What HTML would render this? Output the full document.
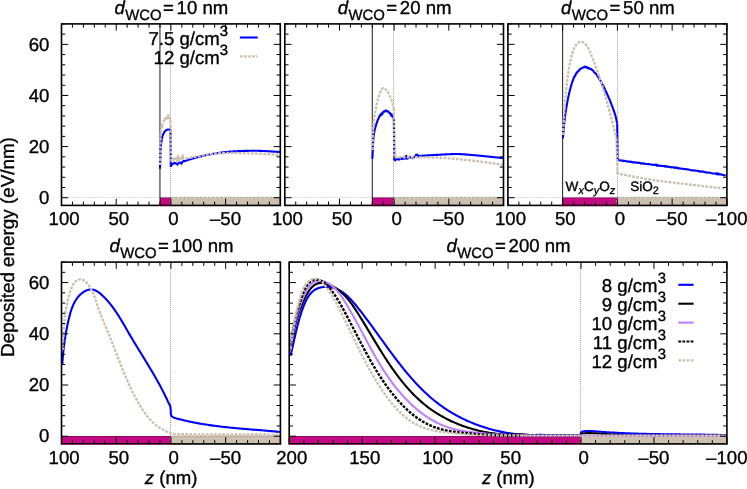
<!DOCTYPE html>
<html><head><meta charset="utf-8"><title>plot</title>
<style>html,body{margin:0;padding:0;background:#fff;overflow:hidden}svg{display:block}text{text-rendering:geometricPrecision}</style></head>
<body>
<svg width="747" height="489" viewBox="0 0 747 489" font-family="Liberation Sans, sans-serif" font-size="18.6" fill="#000">
<rect width="747" height="489" fill="#fff"/>
<rect x="159.96" y="197.53" width="10.94" height="7.87" fill="#c40a82"/>
<rect x="170.90" y="197.73" width="109.40" height="7.67" fill="#cdc0b0" stroke="#cdc0b0" stroke-width="2.1" stroke-dasharray="2.8 1.3"/>
<path d="M61.5 197.50H280.3" stroke="#000" stroke-width="1" stroke-dasharray="0.9 0.85" opacity="0.2" fill="none"/>
<path d="M170.50 23.9V205.4" stroke="#000" stroke-width="1" stroke-dasharray="0.95 1" opacity="0.4" fill="none"/>
<path d="M159.96 23.9V205.4" stroke="#000" stroke-width="0.9" fill="none"/>
<path d="M160.00 168.70 L160.03 167.80 L160.05 166.90 L160.07 165.98 L160.10 165.07 L160.12 164.15 L160.15 163.24 L160.18 162.33 L160.20 161.43 L160.23 160.55 L160.25 159.68 L160.28 158.83 L160.30 158.00 L160.32 157.20 L160.34 156.44 L160.35 155.71 L160.36 155.00 L160.36 154.30 L160.38 153.60 L160.39 152.90 L160.41 152.19 L160.44 151.47 L160.48 150.71 L160.53 149.93 L160.60 149.10 L160.68 148.21 L160.77 147.27 L160.87 146.27 L160.98 145.24 L161.09 144.20 L161.22 143.15 L161.35 142.11 L161.49 141.10 L161.63 140.13 L161.78 139.21 L161.94 138.36 L162.10 137.60 L162.27 136.91 L162.45 136.27 L162.63 135.68 L162.83 135.14 L163.03 134.63 L163.24 134.16 L163.45 133.73 L163.66 133.32 L163.87 132.94 L164.08 132.57 L164.29 132.23 L164.50 131.90 L164.71 131.59 L164.92 131.32 L165.13 131.08 L165.34 130.87 L165.55 130.68 L165.77 130.51 L165.98 130.37 L166.19 130.23 L166.40 130.11 L166.61 130.00 L166.81 129.90 L167.00 129.80 L167.19 129.71 L167.38 129.64 L167.57 129.58 L167.76 129.54 L167.94 129.51 L168.12 129.49 L168.30 129.48 L168.47 129.48 L168.64 129.48 L168.80 129.49 L168.95 129.49 L169.10 129.50 L169.24 129.51 L169.36 129.53 L169.48 129.55 L169.59 129.58 L169.70 129.62 L169.80 129.66 L169.90 129.70 L170.00 129.74 L170.09 129.78 L170.19 129.83 L170.29 129.86 L170.40 129.90 M170.50 129.90 L170.80 167.10 M170.90 166.50 L171.15 165.92 L171.36 164.93 L171.64 164.80 L172.09 163.95 L172.71 164.11 L173.40 163.24 L174.09 163.00 L174.80 162.71 L175.50 163.46 L176.19 163.52 L176.88 163.26 L177.57 164.68 L178.26 162.97 L178.95 162.70 L179.65 162.69 L180.35 162.63 L180.89 162.79 L181.18 163.13 L181.51 163.85 L181.55 163.34 L181.58 162.93 L182.01 162.26 L182.59 161.97 L183.22 161.36 L183.88 160.80 L184.53 161.19 L185.19 160.94 L185.86 160.71 L186.52 160.48 L187.19 160.25 L187.86 160.03 L188.53 159.81 L189.20 159.60 L189.87 159.39 L190.55 159.18 L191.22 158.97 L191.90 158.77 L192.57 158.57 L193.25 158.37 L193.93 158.18 L194.60 157.99 L195.28 157.79 L195.96 157.61 L196.64 157.42 L197.32 157.24 L198.00 157.07 L198.69 156.89 L199.37 156.72 L200.05 156.55 L200.74 156.38 L201.42 156.22 L202.11 156.06 L202.80 155.90 L203.48 155.74 L204.17 155.59 L204.86 155.44 L205.55 155.29 L206.24 155.14 L206.93 155.00 L207.62 154.86 L208.31 154.72 L209.00 154.58 L209.69 154.45 L210.38 154.31 L211.08 154.18 L211.77 154.06 L212.46 153.93 L213.16 153.81 L213.85 153.69 L214.55 153.57 L215.24 153.46 L215.94 153.35 L216.63 153.24 L217.33 153.13 L218.03 153.03 L218.72 152.93 L219.42 152.83 L220.12 152.73 L220.82 152.64 L221.52 152.55 L222.22 152.46 L222.92 152.37 L223.62 152.29 L224.32 152.21 L225.02 152.13 L225.72 152.06 L226.42 151.98 L227.12 151.91 L227.82 151.84 L228.52 151.77 L229.22 151.71 L229.92 151.65 L230.63 151.59 L231.33 151.53 L232.03 151.48 L232.74 151.43 L233.44 151.38 L234.14 151.34 L234.84 151.30 L235.55 151.26 L236.25 151.22 L236.96 151.19 L237.66 151.15 L238.36 151.12 L239.07 151.09 L239.77 151.07 L240.48 151.04 L241.18 151.02 L241.88 151.00 L242.59 150.97 L243.29 150.95 L244.00 150.93 L244.70 150.92 L245.41 150.90 L246.11 150.88 L246.82 150.87 L247.52 150.85 L248.22 150.84 L248.93 150.82 L249.63 150.81 L250.34 150.80 L251.04 150.80 L251.75 150.79 L252.45 150.79 L253.16 150.78 L253.86 150.78 L254.57 150.78 L255.27 150.79 L255.98 150.79 L256.68 150.80 L257.39 150.81 L258.09 150.82 L258.79 150.83 L259.50 150.85 L260.20 150.87 L260.91 150.89 L261.61 150.91 L262.32 150.94 L263.02 150.96 L263.72 150.99 L264.43 151.03 L265.13 151.06 L265.84 151.10 L266.54 151.14 L267.24 151.18 L267.95 151.22 L268.65 151.26 L269.35 151.31 L270.06 151.35 L270.76 151.40 L271.46 151.45 L272.17 151.49 L272.87 151.54 L273.57 151.59 L274.27 151.64 L274.98 151.68 L275.68 151.73 L276.38 151.78 L277.09 151.82 L277.79 151.87 L278.49 151.91 L279.20 151.96 L279.90 152.00" stroke="#0000ff" stroke-width="2.1" fill="none" stroke-linejoin="round"/>
<path d="M160.20 165.00 L160.21 164.29 L160.22 163.58 L160.23 162.87 L160.24 162.16 L160.25 161.45 L160.26 160.75 L160.26 160.04 L160.27 159.33 L160.28 158.62 L160.29 157.91 L160.30 157.20 L160.31 156.49 L160.32 155.78 L160.33 155.07 L160.34 154.36 L160.35 153.65 L160.36 152.94 L160.37 152.24 L160.38 151.53 L160.39 150.82 L160.40 150.11 L160.41 149.40 L160.42 148.69 L160.42 147.98 L160.43 147.27 L160.44 146.56 L160.45 145.85 L160.45 145.14 L160.46 144.43 L160.47 143.73 L160.47 143.02 L160.48 142.31 L160.49 141.60 L160.50 140.89 L160.52 140.18 L160.54 139.47 L160.56 138.76 L160.58 138.05 L160.61 137.34 L160.64 136.64 L160.67 135.93 L160.70 135.22 L160.74 134.51 L160.78 133.80 L160.83 133.09 L160.89 132.39 L160.96 131.68 L161.06 130.98 L161.16 130.28 L161.29 129.58 L161.42 128.88 L161.58 128.19 L161.74 127.50 L161.92 126.81 L162.10 127.55 L162.29 124.92 L162.49 125.00 L162.70 123.29 L162.92 122.96 L163.15 122.56 L163.40 121.68 L163.65 121.20 L163.94 120.97 L164.26 120.04 L164.63 119.06 L165.06 119.75 L165.52 118.01 L166.00 117.50 L166.49 116.80 L167.00 116.37 L167.54 118.42 L168.15 115.19 L168.85 116.84 L169.43 116.39 L169.75 117.18 L169.94 118.66 L170.07 118.86 L170.16 118.86 L170.22 119.78 L170.28 119.76 L170.32 119.59 L170.36 121.28 L170.40 122.54 L170.44 123.40 L170.47 123.63 L170.51 125.12 L170.55 126.00 L170.60 125.66 M170.60 126.20 L170.90 160.50 M171.00 159.59 L171.62 161.10 L172.22 159.63 L172.83 158.56 L173.49 158.75 L174.19 160.02 L174.84 159.98 L175.41 159.35 L175.99 158.26 L176.62 159.92 L177.32 161.88 L178.00 156.06 L178.65 160.81 L179.32 158.90 L180.00 160.06 L180.69 160.15 L181.39 157.51 L182.08 158.73 L182.78 155.51 L183.47 158.84 L184.17 158.72 L184.87 158.60 L185.56 158.47 L186.26 158.35 L186.96 158.23 L187.66 158.11 L188.35 157.99 L189.05 157.87 L189.75 157.75 L190.44 157.63 L191.14 157.51 L191.84 157.39 L192.54 157.28 L193.23 157.16 L193.93 157.04 L194.63 156.92 L195.33 156.80 L196.02 156.68 L196.72 156.56 L197.42 156.44 L198.12 156.32 L198.81 156.20 L199.51 156.07 L200.20 155.94 L200.90 155.81 L201.60 155.69 L202.29 155.56 L202.99 155.42 L203.68 155.30 L204.38 155.17 L205.07 155.04 L205.77 154.92 L206.47 154.79 L207.16 154.67 L207.86 154.55 L208.56 154.44 L209.26 154.33 L209.96 154.22 L210.66 154.12 L211.36 154.02 L212.06 153.94 L212.76 153.85 L213.47 153.77 L214.17 153.70 L214.87 153.63 L215.58 153.57 L216.28 153.52 L216.99 153.46 L217.70 153.41 L218.40 153.37 L219.11 153.32 L219.81 153.28 L220.52 153.25 L221.23 153.21 L221.93 153.19 L222.64 153.16 L223.35 153.13 L224.06 153.11 L224.76 153.09 L225.47 153.07 L226.18 153.06 L226.88 153.04 L227.59 153.03 L228.30 153.02 L229.01 153.01 L229.71 153.00 L230.42 152.99 L231.13 152.98 L231.84 152.99 L232.54 152.99 L233.25 152.99 L233.96 153.00 L234.67 153.01 L235.37 153.02 L236.08 153.04 L236.79 153.06 L237.50 153.07 L238.20 153.09 L238.91 153.11 L239.62 153.13 L240.32 153.16 L241.03 153.18 L241.74 153.20 L242.45 153.22 L243.15 153.24 L243.86 153.26 L244.57 153.28 L245.27 153.30 L245.98 153.32 L246.69 153.33 L247.40 153.35 L248.10 153.37 L248.81 153.39 L249.52 153.40 L250.23 153.42 L250.93 153.44 L251.64 153.46 L252.35 153.48 L253.05 153.50 L253.76 153.52 L254.47 153.54 L255.18 153.56 L255.88 153.58 L256.59 153.61 L257.30 153.63 L258.00 153.66 L258.71 153.69 L259.42 153.71 L260.12 153.74 L260.83 153.78 L261.54 153.81 L262.24 153.84 L262.95 153.88 L263.66 153.91 L264.36 153.95 L265.07 153.99 L265.78 154.03 L266.48 154.07 L267.19 154.11 L267.90 154.15 L268.60 154.20 L269.31 154.24 L270.01 154.28 L270.72 154.33 L271.43 154.37 L272.13 154.42 L272.84 154.46 L273.54 154.50 L274.25 154.55 L274.96 154.59 L275.66 154.64 L276.37 154.68 L277.08 154.73 L277.78 154.77 L278.49 154.81 L279.19 154.86 L279.90 154.90" stroke="#cdc0b0" stroke-width="2.4" fill="none" stroke-linejoin="round" stroke-dasharray="2.8 1.3"/>
<path d="M280.30 205.4v-6.7M280.30 23.9v6.7M269.36 205.4v-3.75M269.36 23.9v3.75M258.42 205.4v-3.75M258.42 23.9v3.75M247.48 205.4v-3.75M247.48 23.9v3.75M236.54 205.4v-3.75M236.54 23.9v3.75M225.60 205.4v-6.7M225.60 23.9v6.7M214.66 205.4v-3.75M214.66 23.9v3.75M203.72 205.4v-3.75M203.72 23.9v3.75M192.78 205.4v-3.75M192.78 23.9v3.75M181.84 205.4v-3.75M181.84 23.9v3.75M170.90 205.4v-6.7M170.90 23.9v6.7M159.96 205.4v-3.75M159.96 23.9v3.75M149.02 205.4v-3.75M149.02 23.9v3.75M138.08 205.4v-3.75M138.08 23.9v3.75M127.14 205.4v-3.75M127.14 23.9v3.75M116.20 205.4v-6.7M116.20 23.9v6.7M105.26 205.4v-3.75M105.26 23.9v3.75M94.32 205.4v-3.75M94.32 23.9v3.75M83.38 205.4v-3.75M83.38 23.9v3.75M72.44 205.4v-3.75M72.44 23.9v3.75M61.50 205.4v-6.7M61.50 23.9v6.7M61.5 197.73h6.7M280.3 197.73h-6.7M61.5 187.51h3.75M280.3 187.51h-3.75M61.5 177.28h3.75M280.3 177.28h-3.75M61.5 167.05h3.75M280.3 167.05h-3.75M61.5 156.83h3.75M280.3 156.83h-3.75M61.5 146.60h6.7M280.3 146.60h-6.7M61.5 136.38h3.75M280.3 136.38h-3.75M61.5 126.15h3.75M280.3 126.15h-3.75M61.5 115.93h3.75M280.3 115.93h-3.75M61.5 105.70h3.75M280.3 105.70h-3.75M61.5 95.48h6.7M280.3 95.48h-6.7M61.5 85.25h3.75M280.3 85.25h-3.75M61.5 75.03h3.75M280.3 75.03h-3.75M61.5 64.80h3.75M280.3 64.80h-3.75M61.5 54.58h3.75M280.3 54.58h-3.75M61.5 44.35h6.7M280.3 44.35h-6.7M61.5 34.13h3.75M280.3 34.13h-3.75M61.5 23.90h3.75M280.3 23.90h-3.75" stroke="#000" stroke-width="1" fill="none"/>
<rect x="61.5" y="23.9" width="218.80" height="181.50" fill="none" stroke="#000" stroke-width="1.6"/>
<path d="M159.96 198.03H170.90" stroke="#300020" stroke-width="1" stroke-dasharray="0.9 1.1" opacity="0.55" fill="none"/>
<path d="M159.96 205.90H170.90" stroke="#c40a82" stroke-width="1.3" stroke-dasharray="2.8 1.3" opacity="0.45" fill="none"/>
<path d="M239.9 37.5H257.7" stroke="#0000ff" stroke-width="2.1"/>
<path d="M239.9 56.4H257.7" stroke="#cdc0b0" stroke-width="2.1" stroke-dasharray="2.8 1.3"/>
<rect x="372.28" y="197.53" width="21.87" height="7.87" fill="#c40a82"/>
<rect x="394.15" y="197.73" width="109.35" height="7.67" fill="#cdc0b0" stroke="#cdc0b0" stroke-width="2.1" stroke-dasharray="2.8 1.3"/>
<path d="M284.8 197.50H503.5" stroke="#000" stroke-width="1" stroke-dasharray="0.9 0.85" opacity="0.2" fill="none"/>
<path d="M393.50 23.9V205.4" stroke="#000" stroke-width="1" stroke-dasharray="0.95 1" opacity="0.4" fill="none"/>
<path d="M372.28 23.9V205.4" stroke="#000" stroke-width="0.9" fill="none"/>
<path d="M372.40 158.80 L372.44 158.09 L372.47 157.37 L372.50 156.66 L372.53 155.94 L372.57 155.22 L372.60 154.51 L372.63 153.79 L372.65 153.08 L372.68 152.36 L372.71 151.65 L372.74 150.93 L372.77 150.22 L372.80 149.50 L372.83 148.79 L372.86 148.07 L372.89 147.36 L372.92 146.64 L372.95 145.93 L372.98 145.21 L373.02 144.50 L373.05 143.78 L373.09 143.07 L373.13 142.35 L373.17 141.64 L373.22 140.92 L373.27 140.21 L373.32 139.50 L373.37 138.78 L373.44 138.07 L373.50 137.36 L373.58 136.65 L373.66 135.93 L373.75 135.22 L373.85 134.51 L373.95 133.81 L374.06 133.10 L374.18 132.39 L374.32 131.69 L374.46 130.99 L374.62 130.29 L374.79 129.60 L374.96 128.90 L375.15 128.21 L375.33 127.52 L375.53 126.83 L375.72 126.14 L375.91 125.45 L376.12 124.77 L376.34 124.08 L376.56 123.41 L376.80 122.73 L377.04 122.05 L377.29 121.38 L377.54 120.72 L377.81 120.05 L378.09 119.39 L378.38 118.74 L378.67 118.08 L378.98 117.44 L379.31 116.70 L379.65 116.11 L380.02 115.13 L380.41 115.61 L380.84 114.67 L381.30 113.56 L381.80 114.58 L382.33 114.15 L382.89 112.22 L383.47 111.73 L384.09 111.42 L384.75 111.66 L385.43 110.63 L386.15 110.53 L386.85 111.20 L387.51 111.48 L388.12 111.27 L388.68 112.23 L389.22 112.95 L389.74 112.78 L390.24 113.57 L390.73 114.61 L391.19 115.64 L391.63 114.18 L392.04 115.07 L392.45 116.64 L392.86 117.34 L393.28 117.27 L393.70 118.80 M393.90 118.50 L394.30 159.90 M394.40 159.80 L395.10 160.45 L395.80 158.79 L396.49 159.45 L397.19 159.43 L397.89 159.08 L398.59 159.16 L399.28 159.55 L399.98 158.69 L400.68 158.40 L401.38 158.12 L402.08 159.07 L402.78 158.84 L403.48 158.77 L404.18 157.55 L404.88 158.56 L405.58 156.35 L406.28 155.84 L406.98 158.83 L407.68 157.27 L408.38 158.15 L409.08 156.82 L409.79 156.96 L410.49 157.50 L411.19 157.51 L411.89 156.95 L412.59 158.10 L413.29 157.08 L413.99 157.05 L414.70 156.64 L415.40 156.44 L416.10 154.66 L416.80 156.16 L417.51 154.64 L418.21 156.46 L418.91 155.96 L419.62 156.27 L420.32 155.98 L421.03 155.91 L421.73 155.85 L422.44 155.78 L423.14 155.73 L423.85 155.67 L424.56 155.61 L425.26 155.56 L425.97 155.51 L426.67 155.46 L427.38 155.42 L428.09 155.37 L428.79 155.33 L429.50 155.29 L430.21 155.24 L430.91 155.20 L431.62 155.16 L432.33 155.12 L433.03 155.08 L433.74 155.04 L434.45 155.00 L435.15 154.96 L435.86 154.92 L436.57 154.88 L437.27 154.84 L437.98 154.80 L438.69 154.76 L439.39 154.72 L440.10 154.68 L440.81 154.64 L441.52 154.60 L442.22 154.56 L442.93 154.53 L443.64 154.49 L444.34 154.45 L445.05 154.42 L445.76 154.38 L446.46 154.35 L447.17 154.31 L447.88 154.28 L448.59 154.25 L449.29 154.22 L450.00 154.19 L450.71 154.16 L451.42 154.13 L452.12 154.11 L452.83 154.08 L453.54 154.06 L454.25 154.03 L454.95 154.00 L455.66 153.98 L456.37 153.97 L457.08 153.97 L457.78 153.99 L458.49 154.01 L459.20 154.04 L459.91 154.08 L460.61 154.12 L461.32 154.16 L462.03 154.21 L462.73 154.25 L463.44 154.30 L464.14 154.36 L464.85 154.41 L465.56 154.46 L466.26 154.52 L466.97 154.58 L467.67 154.64 L468.38 154.69 L469.08 154.75 L469.79 154.81 L470.49 154.88 L471.20 154.94 L471.91 155.00 L472.61 155.06 L473.32 155.12 L474.02 155.19 L474.73 155.25 L475.43 155.31 L476.14 155.38 L476.84 155.44 L477.55 155.51 L478.25 155.57 L478.96 155.64 L479.66 155.71 L480.37 155.77 L481.07 155.84 L481.77 155.91 L482.48 155.98 L483.18 156.05 L483.89 156.12 L484.59 156.20 L485.30 156.27 L486.00 156.34 L486.70 156.41 L487.41 156.49 L488.11 156.56 L488.82 156.63 L489.52 156.70 L490.23 156.78 L490.93 156.85 L491.63 156.92 L492.34 156.99 L493.04 157.07 L493.75 157.14 L494.45 157.21 L495.16 157.28 L495.86 157.36 L496.56 157.43 L497.27 157.50 L497.97 157.58 L498.68 157.65 L499.38 157.73 L500.08 157.80 L500.79 157.88 L501.49 157.95 L502.20 158.03 L502.90 158.10" stroke="#0000ff" stroke-width="2.1" fill="none" stroke-linejoin="round"/>
<path d="M372.50 150.00 L372.58 147.81 L372.64 145.58 L372.69 143.34 L372.74 141.08 L372.80 138.83 L372.85 136.58 L372.91 134.36 L372.99 132.16 L373.08 130.01 L373.19 127.91 L373.33 125.87 L373.50 123.90 L373.70 121.98 L373.93 120.09 L374.18 118.22 L374.46 116.40 L374.75 114.61 L375.06 112.87 L375.37 111.18 L375.69 109.55 L376.00 107.98 L376.31 106.48 L376.61 105.05 L376.90 103.70 L377.18 102.43 L377.45 101.23 L377.73 100.11 L378.00 99.05 L378.28 98.06 L378.55 97.12 L378.82 96.24 L379.10 95.40 L379.37 94.62 L379.65 93.87 L379.92 93.17 L380.20 92.50 L380.48 91.86 L380.75 91.26 L381.02 90.69 L381.29 90.17 L381.55 89.69 L381.82 89.27 L382.10 88.90 L382.38 88.59 L382.67 88.34 L382.97 88.15 L383.28 88.04 L383.60 88.00 L383.94 88.05 L384.30 88.19 L384.67 88.41 L385.06 88.71 L385.45 89.07 L385.85 89.48 L386.25 89.94 L386.64 90.42 L387.03 90.93 L387.40 91.45 L387.76 91.98 L388.10 92.50 L388.43 93.03 L388.74 93.61 L389.06 94.22 L389.36 94.85 L389.66 95.51 L389.94 96.19 L390.22 96.88 L390.50 97.57 L390.76 98.27 L391.02 98.96 L391.26 99.64 L391.50 100.30 L391.73 100.95 L391.94 101.61 L392.13 102.27 L392.32 102.93 L392.50 103.58 L392.67 104.24 L392.84 104.90 L393.01 105.56 L393.18 106.22 L393.35 106.88 L393.52 107.54 L393.70 108.20 M393.80 108.40 L394.40 157.20 M394.50 157.30 L395.28 157.30 L396.03 157.30 L396.75 157.30 L397.47 157.30 L398.18 157.30 L398.91 157.30 L399.65 157.30 L400.43 157.30 L401.26 157.30 L402.14 157.30 L403.08 157.30 L404.10 157.30 L405.20 157.30 L406.38 157.30 L407.62 157.29 L408.92 157.29 L410.26 157.28 L411.64 157.28 L413.03 157.28 L414.44 157.28 L415.86 157.28 L417.26 157.28 L418.64 157.29 L420.00 157.30 L421.34 157.31 L422.68 157.32 L424.03 157.34 L425.38 157.35 L426.73 157.37 L428.09 157.39 L429.44 157.41 L430.80 157.44 L432.15 157.47 L433.50 157.51 L434.85 157.55 L436.20 157.60 L437.55 157.66 L438.89 157.72 L440.23 157.79 L441.58 157.86 L442.92 157.94 L444.26 158.02 L445.60 158.11 L446.94 158.20 L448.28 158.29 L449.62 158.39 L450.96 158.49 L452.30 158.60 L453.64 158.71 L454.97 158.83 L456.30 158.95 L457.64 159.08 L458.97 159.21 L460.30 159.34 L461.63 159.48 L462.96 159.62 L464.30 159.76 L465.63 159.91 L466.96 160.05 L468.30 160.20 L469.63 160.34 L470.95 160.49 L472.26 160.63 L473.57 160.78 L474.88 160.92 L476.19 161.07 L477.52 161.23 L478.85 161.39 L480.20 161.55 L481.58 161.73 L482.97 161.91 L484.40 162.10 L485.86 162.30 L487.34 162.51 L488.86 162.74 L490.39 162.97 L491.94 163.20 L493.50 163.44 L495.07 163.69 L496.64 163.93 L498.22 164.18 L499.79 164.42 L501.35 164.66 L502.90 164.90" stroke="#cdc0b0" stroke-width="2.4" fill="none" stroke-linejoin="round" stroke-dasharray="2.8 1.3"/>
<path d="M503.50 205.4v-6.7M503.50 23.9v6.7M492.56 205.4v-3.75M492.56 23.9v3.75M481.63 205.4v-3.75M481.63 23.9v3.75M470.69 205.4v-3.75M470.69 23.9v3.75M459.76 205.4v-3.75M459.76 23.9v3.75M448.82 205.4v-6.7M448.82 23.9v6.7M437.89 205.4v-3.75M437.89 23.9v3.75M426.96 205.4v-3.75M426.96 23.9v3.75M416.02 205.4v-3.75M416.02 23.9v3.75M405.09 205.4v-3.75M405.09 23.9v3.75M394.15 205.4v-6.7M394.15 23.9v6.7M383.22 205.4v-3.75M383.22 23.9v3.75M372.28 205.4v-3.75M372.28 23.9v3.75M361.35 205.4v-3.75M361.35 23.9v3.75M350.41 205.4v-3.75M350.41 23.9v3.75M339.48 205.4v-6.7M339.48 23.9v6.7M328.54 205.4v-3.75M328.54 23.9v3.75M317.61 205.4v-3.75M317.61 23.9v3.75M306.67 205.4v-3.75M306.67 23.9v3.75M295.74 205.4v-3.75M295.74 23.9v3.75M284.80 205.4v-6.7M284.80 23.9v6.7M284.8 197.73h6.7M503.5 197.73h-6.7M284.8 187.51h3.75M503.5 187.51h-3.75M284.8 177.28h3.75M503.5 177.28h-3.75M284.8 167.05h3.75M503.5 167.05h-3.75M284.8 156.83h3.75M503.5 156.83h-3.75M284.8 146.60h6.7M503.5 146.60h-6.7M284.8 136.38h3.75M503.5 136.38h-3.75M284.8 126.15h3.75M503.5 126.15h-3.75M284.8 115.93h3.75M503.5 115.93h-3.75M284.8 105.70h3.75M503.5 105.70h-3.75M284.8 95.48h6.7M503.5 95.48h-6.7M284.8 85.25h3.75M503.5 85.25h-3.75M284.8 75.03h3.75M503.5 75.03h-3.75M284.8 64.80h3.75M503.5 64.80h-3.75M284.8 54.58h3.75M503.5 54.58h-3.75M284.8 44.35h6.7M503.5 44.35h-6.7M284.8 34.13h3.75M503.5 34.13h-3.75M284.8 23.90h3.75M503.5 23.90h-3.75" stroke="#000" stroke-width="1" fill="none"/>
<rect x="284.8" y="23.9" width="218.70" height="181.50" fill="none" stroke="#000" stroke-width="1.6"/>
<path d="M372.28 198.03H394.15" stroke="#300020" stroke-width="1" stroke-dasharray="0.9 1.1" opacity="0.55" fill="none"/>
<path d="M372.28 205.90H394.15" stroke="#c40a82" stroke-width="1.3" stroke-dasharray="2.8 1.3" opacity="0.45" fill="none"/>
<rect x="562.65" y="197.53" width="54.75" height="7.87" fill="#c40a82"/>
<rect x="617.40" y="197.73" width="109.50" height="7.67" fill="#cdc0b0" stroke="#cdc0b0" stroke-width="2.1" stroke-dasharray="2.8 1.3"/>
<path d="M507.9 197.50H726.9" stroke="#000" stroke-width="1" stroke-dasharray="0.9 0.85" opacity="0.2" fill="none"/>
<path d="M617.50 23.9V205.4" stroke="#000" stroke-width="1" stroke-dasharray="0.95 1" opacity="0.4" fill="none"/>
<path d="M562.65 23.9V205.4" stroke="#000" stroke-width="0.9" fill="none"/>
<path d="M562.90 138.40 L562.96 137.70 L563.03 137.00 L563.09 136.29 L563.15 135.59 L563.21 134.89 L563.27 134.19 L563.33 133.48 L563.38 132.78 L563.44 132.08 L563.50 131.38 L563.56 130.67 L563.61 129.97 L563.67 129.27 L563.73 128.57 L563.79 127.86 L563.85 127.16 L563.91 126.46 L563.98 125.76 L564.04 125.06 L564.11 124.35 L564.18 123.65 L564.25 122.95 L564.33 122.25 L564.40 121.55 L564.48 120.85 L564.57 120.15 L564.65 119.45 L564.74 118.75 L564.83 118.05 L564.93 117.35 L565.02 116.66 L565.12 115.96 L565.22 115.26 L565.32 114.56 L565.42 113.86 L565.52 113.17 L565.62 112.47 L565.72 111.77 L565.83 111.08 L565.94 110.38 L566.04 109.68 L566.15 108.99 L566.27 108.29 L566.38 107.59 L566.49 106.90 L566.61 106.20 L566.72 105.51 L566.84 104.81 L566.96 104.12 L567.09 103.42 L567.21 102.73 L567.34 102.04 L567.47 101.34 L567.59 100.65 L567.73 99.96 L567.86 99.27 L568.00 98.58 L568.14 97.89 L568.29 97.20 L568.43 96.51 L568.58 95.82 L568.74 95.13 L568.89 94.44 L569.05 93.75 L569.21 93.07 L569.37 92.38 L569.53 91.70 L569.70 91.01 L569.87 90.33 L570.04 89.64 L570.22 88.96 L570.40 88.28 L570.58 87.60 L570.77 86.92 L570.96 86.24 L571.15 85.56 L571.35 84.89 L571.56 84.21 L571.77 83.54 L571.99 82.87 L572.21 82.21 L572.44 81.14 L572.67 81.09 L572.92 80.29 L573.18 79.73 L573.44 78.82 L573.72 77.65 L574.01 77.59 L574.32 76.90 L574.63 76.43 L574.97 75.66 L575.32 75.79 L575.68 74.17 L576.05 73.48 L576.44 73.16 L576.85 73.02 L577.27 71.78 L577.71 71.83 L578.17 71.17 L578.64 70.98 L579.13 70.09 L579.64 69.81 L580.17 68.89 L580.73 68.54 L581.33 68.55 L581.95 68.21 L582.60 67.68 L583.27 67.57 L583.96 67.25 L584.66 66.67 L585.36 67.27 L586.07 67.50 L586.77 66.86 L587.46 67.72 L588.13 68.44 L588.79 67.98 L589.43 68.27 L590.05 68.94 L590.65 68.94 L591.23 69.11 L591.80 69.73 L592.35 70.00 L592.88 70.59 L593.40 71.09 L593.91 71.87 L594.40 72.23 L594.87 73.08 L595.34 73.33 L595.79 73.50 L596.23 73.82 L596.66 74.75 L597.08 75.64 L597.49 76.03 L597.89 76.39 L598.29 76.91 L598.67 77.78 L599.05 78.75 L599.41 78.82 L599.77 79.65 L600.13 80.03 L600.48 80.54 L600.82 81.40 L601.16 81.91 L601.50 82.48 L601.83 82.98 L602.16 83.94 L602.48 84.91 L602.81 85.03 L603.13 85.56 L603.45 85.84 L603.76 87.00 L604.08 87.70 L604.39 88.25 L604.70 88.47 L605.01 89.92 L605.32 89.99 L605.62 91.44 L605.92 91.29 L606.22 91.85 L606.52 92.86 L606.81 93.31 L607.11 93.82 L607.40 94.73 L607.68 95.73 L607.97 95.96 L608.25 96.00 L608.54 97.24 L608.81 98.00 L609.09 98.74 L609.37 98.88 L609.64 99.63 L609.91 100.23 L610.18 101.01 L610.44 101.90 L610.70 102.66 L610.96 102.78 L611.22 103.85 L611.47 104.47 L611.73 105.36 L611.98 105.88 L612.22 106.30 L612.47 106.96 L612.71 107.62 L612.95 108.28 L613.19 108.95 L613.43 109.61 L613.66 110.28 L613.89 110.94 L614.12 111.61 L614.35 112.28 L614.57 112.94 L614.79 113.62 L615.00 114.29 L615.21 114.96 L615.41 115.64 L615.60 116.31 L615.78 117.00 L615.95 117.68 L616.10 118.37 L616.25 119.06 L616.39 119.75 L616.53 120.44 L616.66 121.13 L616.80 121.82 L616.95 122.51 L617.10 123.20 M617.20 123.40 L617.60 159.50 M617.62 159.97 L618.31 160.07 L619.01 160.31 L619.71 160.23 L620.41 160.42 L621.11 160.43 L621.81 160.61 L622.50 160.65 L623.20 160.63 L623.90 161.13 L624.60 160.88 L625.30 160.89 L626.00 161.18 L626.70 161.52 L627.39 161.51 L628.09 161.37 L628.79 161.71 L629.49 161.56 L630.19 161.86 L630.89 161.99 L631.59 161.67 L632.28 162.43 L632.98 162.25 L633.68 162.35 L634.38 162.16 L635.08 162.43 L635.78 162.75 L636.48 162.61 L637.18 162.78 L637.87 162.54 L638.57 162.91 L639.27 162.86 L639.97 163.11 L640.67 163.36 L641.37 163.79 L642.07 163.26 L642.77 163.42 L643.46 163.38 L644.16 163.65 L644.86 163.69 L645.56 164.02 L646.26 164.04 L646.96 164.07 L647.66 164.08 L648.36 164.40 L649.06 164.02 L649.75 164.16 L650.45 164.34 L651.15 164.53 L651.85 164.84 L652.55 164.66 L653.25 164.86 L653.95 165.06 L654.65 164.87 L655.34 164.89 L656.04 164.53 L656.74 165.73 L657.44 164.96 L658.14 165.73 L658.84 165.54 L659.54 165.62 L660.24 165.86 L660.93 165.78 L661.63 166.03 L662.33 165.91 L663.03 166.01 L663.73 166.24 L664.43 166.09 L665.13 166.66 L665.83 165.87 L666.52 166.62 L667.22 166.90 L667.92 166.65 L668.62 166.60 L669.32 166.90 L670.02 167.07 L670.72 167.42 L671.41 167.11 L672.11 167.12 L672.81 167.38 L673.51 167.55 L674.21 167.29 L674.91 168.07 L675.61 167.84 L676.30 167.36 L677.00 167.72 L677.70 168.43 L678.40 167.97 L679.10 168.26 L679.80 168.62 L680.49 168.54 L681.19 168.57 L681.89 168.69 L682.59 168.80 L683.29 169.02 L683.98 168.82 L684.68 168.94 L685.38 169.25 L686.08 169.18 L686.78 169.08 L687.47 169.54 L688.17 169.45 L688.87 169.43 L689.57 169.71 L690.27 169.97 L690.96 170.19 L691.66 170.24 L692.36 170.42 L693.06 170.25 L693.76 170.39 L694.45 170.38 L695.15 170.60 L695.85 170.74 L696.55 170.79 L697.24 170.80 L697.94 171.10 L698.64 171.16 L699.33 170.96 L700.03 171.64 L700.73 171.45 L701.43 171.77 L702.12 171.49 L702.82 171.41 L703.52 171.72 L704.21 172.16 L704.91 172.20 L705.61 172.15 L706.31 172.45 L707.00 172.68 L707.70 172.51 L708.40 172.56 L709.09 172.61 L709.79 172.72 L710.49 172.76 L711.18 173.28 L711.88 173.18 L712.58 173.49 L713.27 173.43 L713.97 173.60 L714.66 173.43 L715.36 173.62 L716.06 173.64 L716.75 174.09 L717.45 173.02 L718.14 174.42 L718.84 173.85 L719.54 174.33 L720.23 174.38 L720.93 174.34 L721.62 174.52 L722.32 174.76 L723.01 174.96 L723.71 175.21 L724.40 175.19 L725.10 175.30 L725.79 175.29" stroke="#0000ff" stroke-width="2.1" fill="none" stroke-linejoin="round"/>
<path d="M563.20 135.00 L563.23 134.08 L563.24 133.27 L563.25 132.52 L563.26 131.81 L563.27 131.10 L563.28 130.36 L563.29 129.54 L563.32 128.62 L563.36 127.56 L563.42 126.33 L563.50 124.89 L563.60 123.20 L563.73 121.23 L563.87 118.99 L564.03 116.52 L564.20 113.87 L564.39 111.09 L564.59 108.20 L564.81 105.26 L565.03 102.31 L565.26 99.40 L565.50 96.57 L565.75 93.85 L566.00 91.30 L566.26 88.85 L566.53 86.40 L566.81 83.98 L567.09 81.57 L567.39 79.21 L567.69 76.88 L568.01 74.61 L568.33 72.39 L568.66 70.25 L569.00 68.18 L569.35 66.19 L569.70 64.30 L570.06 62.49 L570.43 60.73 L570.81 59.03 L571.20 57.40 L571.59 55.84 L571.99 54.35 L572.41 52.93 L572.83 51.60 L573.26 50.34 L573.69 49.17 L574.14 48.09 L574.60 47.10 L575.07 46.21 L575.56 45.41 L576.06 44.70 L576.57 44.07 L577.10 43.53 L577.62 43.06 L578.16 42.67 L578.69 42.35 L579.23 42.10 L579.76 41.91 L580.28 41.78 L580.80 41.70 L581.31 41.68 L581.82 41.74 L582.33 41.86 L582.84 42.04 L583.35 42.30 L583.86 42.62 L584.36 43.00 L584.87 43.46 L585.38 43.97 L585.88 44.55 L586.39 45.19 L586.90 45.90 L587.41 46.69 L587.92 47.57 L588.42 48.54 L588.93 49.58 L589.44 50.68 L589.94 51.84 L590.45 53.05 L590.96 54.29 L591.47 55.55 L591.98 56.83 L592.49 58.12 L593.00 59.40 L593.51 60.69 L594.03 62.01 L594.55 63.36 L595.06 64.74 L595.58 66.14 L596.10 67.56 L596.62 69.01 L597.14 70.47 L597.65 71.96 L598.17 73.46 L598.69 74.97 L599.20 76.50 L599.71 78.04 L600.22 79.61 L600.73 81.19 L601.24 82.79 L601.75 84.40 L602.26 86.04 L602.76 87.69 L603.27 89.36 L603.78 91.05 L604.28 92.75 L604.79 94.47 L605.30 96.20 L605.81 97.97 L606.33 99.77 L606.85 101.61 L607.38 103.48 L607.90 105.36 L608.42 107.26 L608.94 109.15 L609.46 111.03 L609.96 112.89 L610.45 114.73 L610.93 116.54 L611.40 118.30 L611.85 120.02 L612.29 121.71 L612.71 123.38 L613.12 125.02 L613.53 126.64 L613.92 128.26 L614.32 129.86 L614.71 131.46 L615.10 133.06 L615.50 134.66 L615.90 136.27 L616.30 137.90 M616.50 138.50 L617.50 172.00 M617.60 172.20 L617.74 172.34 L617.74 172.45 L617.65 172.56 L617.50 172.66 L617.36 172.75 L617.26 172.86 L617.26 172.97 L617.41 173.11 L617.75 173.28 L618.32 173.47 L619.19 173.71 L620.40 174.00 L621.98 174.34 L623.89 174.75 L626.09 175.19 L628.53 175.68 L631.17 176.19 L633.95 176.72 L636.83 177.26 L639.76 177.79 L642.68 178.31 L645.57 178.81 L648.35 179.28 L651.00 179.70 L653.52 180.08 L655.97 180.44 L658.38 180.77 L660.76 181.09 L663.15 181.39 L665.56 181.69 L668.02 181.98 L670.55 182.28 L673.17 182.58 L675.90 182.90 L678.77 183.24 L681.80 183.60 L685.00 183.98 L688.37 184.38 L691.87 184.79 L695.49 185.21 L699.20 185.64 L702.97 186.07 L706.80 186.51 L710.64 186.96 L714.49 187.40 L718.31 187.84 L722.09 188.27 L725.80 188.70" stroke="#cdc0b0" stroke-width="2.4" fill="none" stroke-linejoin="round" stroke-dasharray="2.8 1.3"/>
<path d="M726.90 205.4v-6.7M726.90 23.9v6.7M715.95 205.4v-3.75M715.95 23.9v3.75M705.00 205.4v-3.75M705.00 23.9v3.75M694.05 205.4v-3.75M694.05 23.9v3.75M683.10 205.4v-3.75M683.10 23.9v3.75M672.15 205.4v-6.7M672.15 23.9v6.7M661.20 205.4v-3.75M661.20 23.9v3.75M650.25 205.4v-3.75M650.25 23.9v3.75M639.30 205.4v-3.75M639.30 23.9v3.75M628.35 205.4v-3.75M628.35 23.9v3.75M617.40 205.4v-6.7M617.40 23.9v6.7M606.45 205.4v-3.75M606.45 23.9v3.75M595.50 205.4v-3.75M595.50 23.9v3.75M584.55 205.4v-3.75M584.55 23.9v3.75M573.60 205.4v-3.75M573.60 23.9v3.75M562.65 205.4v-6.7M562.65 23.9v6.7M551.70 205.4v-3.75M551.70 23.9v3.75M540.75 205.4v-3.75M540.75 23.9v3.75M529.80 205.4v-3.75M529.80 23.9v3.75M518.85 205.4v-3.75M518.85 23.9v3.75M507.90 205.4v-6.7M507.90 23.9v6.7M507.9 197.73h6.7M726.9 197.73h-6.7M507.9 187.51h3.75M726.9 187.51h-3.75M507.9 177.28h3.75M726.9 177.28h-3.75M507.9 167.05h3.75M726.9 167.05h-3.75M507.9 156.83h3.75M726.9 156.83h-3.75M507.9 146.60h6.7M726.9 146.60h-6.7M507.9 136.38h3.75M726.9 136.38h-3.75M507.9 126.15h3.75M726.9 126.15h-3.75M507.9 115.93h3.75M726.9 115.93h-3.75M507.9 105.70h3.75M726.9 105.70h-3.75M507.9 95.48h6.7M726.9 95.48h-6.7M507.9 85.25h3.75M726.9 85.25h-3.75M507.9 75.03h3.75M726.9 75.03h-3.75M507.9 64.80h3.75M726.9 64.80h-3.75M507.9 54.58h3.75M726.9 54.58h-3.75M507.9 44.35h6.7M726.9 44.35h-6.7M507.9 34.13h3.75M726.9 34.13h-3.75M507.9 23.90h3.75M726.9 23.90h-3.75" stroke="#000" stroke-width="1" fill="none"/>
<rect x="507.9" y="23.9" width="219.00" height="181.50" fill="none" stroke="#000" stroke-width="1.6"/>
<path d="M562.65 198.03H617.40" stroke="#300020" stroke-width="1" stroke-dasharray="0.9 1.1" opacity="0.55" fill="none"/>
<path d="M562.65 205.90H617.40" stroke="#c40a82" stroke-width="1.3" stroke-dasharray="2.8 1.3" opacity="0.45" fill="none"/>
<rect x="61.50" y="436.02" width="109.45" height="7.88" fill="#c40a82"/>
<rect x="170.95" y="436.22" width="109.45" height="7.68" fill="#cdc0b0" stroke="#cdc0b0" stroke-width="2.1" stroke-dasharray="2.8 1.3"/>
<path d="M61.5 436.50H280.4" stroke="#000" stroke-width="1" stroke-dasharray="0.9 0.85" opacity="0.2" fill="none"/>
<path d="M170.50 262.1V443.9" stroke="#000" stroke-width="1" stroke-dasharray="0.95 1" opacity="0.4" fill="none"/>
<path d="M62.32 364.56 L62.38 363.38 L62.46 362.20 L62.53 361.03 L62.61 359.87 L62.69 358.71 L62.78 357.56 L62.87 356.42 L62.97 355.28 L63.07 354.15 L63.18 353.02 L63.29 351.89 L63.40 350.77 L63.52 349.66 L63.64 348.55 L63.77 347.44 L63.90 346.33 L64.04 345.23 L64.18 344.13 L64.33 343.03 L64.48 341.94 L64.63 340.84 L64.79 339.75 L64.96 338.66 L65.13 337.57 L65.31 336.48 L65.49 335.39 L65.68 334.29 L65.87 333.20 L66.06 332.11 L66.27 331.01 L66.47 329.92 L66.69 328.82 L66.90 327.72 L67.13 326.62 L67.36 325.51 L67.59 324.41 L67.83 323.29 L68.08 322.18 L68.33 321.06 L68.59 319.93 L68.85 318.81 L69.12 317.67 L69.40 316.54 L69.69 315.40 L69.99 314.27 L70.30 313.14 L70.63 312.01 L70.98 310.88 L71.34 309.77 L71.73 308.66 L72.13 307.56 L72.56 306.47 L73.01 305.40 L73.49 304.34 L74.00 303.29 L74.54 302.26 L75.10 301.25 L75.70 300.26 L76.34 299.29 L77.01 298.35 L77.72 297.42 L78.46 296.53 L79.25 295.66 L80.07 294.82 L80.93 294.03 L81.82 293.27 L82.74 292.57 L83.67 291.93 L84.63 291.34 L85.60 290.82 L86.59 290.38 L87.58 290.01 L88.58 289.73 L89.58 289.54 L90.57 289.44 L91.56 289.45 L92.54 289.56 L93.52 289.77 L94.48 290.07 L95.43 290.45 L96.37 290.91 L97.29 291.44 L98.21 292.03 L99.11 292.67 L100.01 293.36 L100.88 294.09 L101.75 294.86 L102.60 295.65 L103.44 296.46 L104.26 297.29 L105.07 298.12 L105.87 298.96 L106.65 299.81 L107.42 300.67 L108.17 301.54 L108.92 302.41 L109.65 303.30 L110.37 304.19 L111.08 305.08 L111.78 305.99 L112.47 306.90 L113.14 307.81 L113.81 308.73 L114.47 309.66 L115.12 310.59 L115.77 311.53 L116.40 312.48 L117.03 313.42 L117.65 314.38 L118.27 315.33 L118.88 316.29 L119.48 317.25 L120.08 318.22 L120.67 319.19 L121.26 320.16 L121.84 321.14 L122.42 322.11 L123.00 323.09 L123.57 324.07 L124.15 325.05 L124.72 326.04 L125.28 327.02 L125.85 328.00 L126.42 328.99 L126.98 329.97 L127.55 330.96 L128.12 331.94 L128.68 332.92 L129.25 333.90 L129.82 334.88 L130.40 335.86 L130.97 336.84 L131.55 337.81 L132.12 338.79 L132.70 339.76 L133.28 340.73 L133.87 341.70 L134.45 342.67 L135.04 343.64 L135.62 344.61 L136.21 345.57 L136.80 346.54 L137.39 347.50 L137.98 348.47 L138.57 349.43 L139.16 350.39 L139.75 351.36 L140.34 352.32 L140.93 353.28 L141.52 354.24 L142.11 355.20 L142.71 356.17 L143.30 357.13 L143.89 358.09 L144.48 359.05 L145.07 360.01 L145.66 360.98 L146.25 361.94 L146.83 362.90 L147.42 363.87 L148.01 364.83 L148.59 365.80 L149.17 366.76 L149.76 367.73 L150.34 368.70 L150.92 369.67 L151.49 370.64 L152.07 371.61 L152.64 372.58 L153.21 373.55 L153.78 374.53 L154.35 375.51 L154.92 376.48 L155.48 377.46 L156.04 378.45 L156.60 379.43 L157.15 380.41 L157.70 381.40 L158.25 382.39 L158.80 383.38 L159.34 384.37 L159.88 385.37 L160.42 386.37 L160.95 387.37 L161.48 388.37 L162.00 389.38 L162.52 390.38 L163.04 391.39 L163.56 392.41 L164.07 393.42 L164.57 394.44 L165.07 395.46 L165.57 396.49 L166.06 397.52 L166.55 398.55 L167.03 399.58 L167.51 400.62 L167.99 401.66 L168.46 402.71 L169.60 404.60 L170.40 406.80 L170.70 410.00 L170.80 414.10 L171.40 416.00 L172.60 416.90 L173.94 417.69 L175.69 418.18 L177.44 418.66 L179.20 419.13 L180.96 419.58 L182.72 420.02 L184.48 420.44 L186.25 420.85 L188.02 421.25 L189.79 421.63 L191.56 422.00 L193.34 422.36 L195.12 422.71 L196.90 423.04 L198.68 423.36 L200.47 423.68 L202.26 423.98 L204.04 424.27 L205.84 424.56 L207.63 424.83 L209.42 425.09 L211.22 425.35 L213.02 425.60 L214.81 425.83 L216.61 426.07 L218.42 426.29 L220.22 426.51 L222.02 426.72 L223.83 426.92 L225.63 427.12 L227.44 427.31 L229.25 427.49 L231.06 427.68 L232.87 427.85 L234.67 428.02 L236.49 428.19 L238.30 428.36 L240.11 428.52 L241.92 428.68 L243.73 428.83 L245.54 428.99 L247.35 429.14 L249.16 429.29 L250.98 429.44 L252.79 429.59 L254.60 429.73 L256.41 429.88 L258.22 430.03 L260.03 430.17 L261.84 430.32 L263.65 430.47 L265.46 430.62 L267.26 430.78 L269.07 430.93 L270.87 431.09 L272.68 431.25 L274.48 431.41 L276.29 431.58 L278.09 431.75 L279.89 431.93" stroke="#0000ff" stroke-width="2.1" fill="none" stroke-linejoin="round"/>
<path d="M62.59 350.01 L62.65 348.61 L62.72 347.23 L62.78 345.85 L62.84 344.49 L62.90 343.14 L62.96 341.80 L63.03 340.48 L63.09 339.16 L63.15 337.85 L63.22 336.55 L63.29 335.25 L63.36 333.97 L63.43 332.69 L63.51 331.41 L63.59 330.15 L63.68 328.88 L63.77 327.62 L63.87 326.37 L63.97 325.12 L64.08 323.87 L64.20 322.62 L64.32 321.37 L64.45 320.13 L64.59 318.88 L64.74 317.63 L64.89 316.39 L65.06 315.14 L65.23 313.89 L65.42 312.63 L65.62 311.37 L65.83 310.11 L66.05 308.85 L66.28 307.57 L66.52 306.30 L66.78 305.01 L67.05 303.72 L67.34 302.42 L67.64 301.11 L67.96 299.79 L68.29 298.47 L68.63 297.13 L69.00 295.78 L69.38 294.43 L69.77 293.06 L70.19 291.68 L70.63 290.30 L71.10 288.95 L71.61 287.63 L72.16 286.35 L72.77 285.14 L73.42 284.00 L74.14 282.95 L74.93 282.01 L75.78 281.18 L76.69 280.49 L77.65 279.94 L78.63 279.55 L79.63 279.34 L80.64 279.31 L81.65 279.47 L82.65 279.80 L83.64 280.30 L84.62 280.94 L85.57 281.72 L86.50 282.61 L87.41 283.59 L88.28 284.67 L89.12 285.80 L89.91 286.99 L90.66 288.22 L91.37 289.47 L92.02 290.72 L92.62 291.97 L93.18 293.22 L93.69 294.47 L94.17 295.71 L94.62 296.95 L95.05 298.18 L95.46 299.42 L95.86 300.65 L96.25 301.88 L96.63 303.10 L97.02 304.32 L97.43 305.54 L97.84 306.76 L98.26 307.98 L98.69 309.19 L99.13 310.40 L99.58 311.61 L100.03 312.82 L100.50 314.02 L100.97 315.23 L101.44 316.43 L101.92 317.63 L102.41 318.83 L102.90 320.04 L103.39 321.24 L103.89 322.44 L104.39 323.64 L104.89 324.84 L105.39 326.04 L105.90 327.24 L106.40 328.44 L106.90 329.64 L107.41 330.84 L107.91 332.04 L108.40 333.25 L108.90 334.45 L109.39 335.66 L109.88 336.87 L110.37 338.08 L110.85 339.29 L111.34 340.50 L111.81 341.71 L112.29 342.93 L112.77 344.14 L113.24 345.35 L113.71 346.57 L114.19 347.79 L114.66 349.00 L115.13 350.22 L115.59 351.44 L116.06 352.65 L116.53 353.87 L117.00 355.09 L117.47 356.30 L117.94 357.52 L118.41 358.73 L118.88 359.95 L119.35 361.17 L119.82 362.38 L120.30 363.59 L120.78 364.81 L121.25 366.02 L121.74 367.23 L122.22 368.44 L122.70 369.65 L123.19 370.85 L123.69 372.06 L124.18 373.26 L124.68 374.47 L125.18 375.67 L125.69 376.87 L126.20 378.06 L126.71 379.26 L127.23 380.45 L127.75 381.64 L128.28 382.83 L128.82 384.02 L129.35 385.20 L129.90 386.39 L130.45 387.56 L131.01 388.74 L131.57 389.91 L132.14 391.09 L132.71 392.25 L133.29 393.42 L133.88 394.58 L134.48 395.74 L135.08 396.89 L135.70 398.04 L136.32 399.19 L136.94 400.33 L137.58 401.47 L138.22 402.61 L138.88 403.74 L139.54 404.87 L140.21 405.99 L140.90 407.10 L141.59 408.21 L142.30 409.31 L143.02 410.40 L143.75 411.47 L144.50 412.54 L145.26 413.59 L146.03 414.63 L146.83 415.66 L147.63 416.67 L148.46 417.66 L149.30 418.64 L150.17 419.59 L151.05 420.53 L151.95 421.45 L152.87 422.35 L153.81 423.22 L154.78 424.07 L155.76 424.90 L156.77 425.70 L157.81 426.48 L158.86 427.23 L159.95 427.95 L161.05 428.64 L162.19 429.31 L163.35 429.94 L164.54 430.54 L165.75 431.11 L167.00 431.64 L168.27 432.14 L169.58 432.60 L172.00 433.60 L176.00 434.20 L200.00 434.40 L279.90 434.60" stroke="#cdc0b0" stroke-width="2.4" fill="none" stroke-linejoin="round" stroke-dasharray="2.8 1.3"/>
<path d="M280.40 443.9v-6.7M280.40 262.1v6.7M269.45 443.9v-3.75M269.45 262.1v3.75M258.51 443.9v-3.75M258.51 262.1v3.75M247.56 443.9v-3.75M247.56 262.1v3.75M236.62 443.9v-3.75M236.62 262.1v3.75M225.67 443.9v-6.7M225.67 262.1v6.7M214.73 443.9v-3.75M214.73 262.1v3.75M203.78 443.9v-3.75M203.78 262.1v3.75M192.84 443.9v-3.75M192.84 262.1v3.75M181.89 443.9v-3.75M181.89 262.1v3.75M170.95 443.9v-6.7M170.95 262.1v6.7M160.00 443.9v-3.75M160.00 262.1v3.75M149.06 443.9v-3.75M149.06 262.1v3.75M138.11 443.9v-3.75M138.11 262.1v3.75M127.17 443.9v-3.75M127.17 262.1v3.75M116.22 443.9v-6.7M116.22 262.1v6.7M105.28 443.9v-3.75M105.28 262.1v3.75M94.33 443.9v-3.75M94.33 262.1v3.75M83.39 443.9v-3.75M83.39 262.1v3.75M72.44 443.9v-3.75M72.44 262.1v3.75M61.50 443.9v-6.7M61.50 262.1v6.7M61.5 436.22h6.7M280.4 436.22h-6.7M61.5 425.98h3.75M280.4 425.98h-3.75M61.5 415.73h3.75M280.4 415.73h-3.75M61.5 405.49h3.75M280.4 405.49h-3.75M61.5 395.25h3.75M280.4 395.25h-3.75M61.5 385.01h6.7M280.4 385.01h-6.7M61.5 374.76h3.75M280.4 374.76h-3.75M61.5 364.52h3.75M280.4 364.52h-3.75M61.5 354.28h3.75M280.4 354.28h-3.75M61.5 344.04h3.75M280.4 344.04h-3.75M61.5 333.80h6.7M280.4 333.80h-6.7M61.5 323.55h3.75M280.4 323.55h-3.75M61.5 313.31h3.75M280.4 313.31h-3.75M61.5 303.07h3.75M280.4 303.07h-3.75M61.5 292.83h3.75M280.4 292.83h-3.75M61.5 282.58h6.7M280.4 282.58h-6.7M61.5 272.34h3.75M280.4 272.34h-3.75M61.5 262.10h3.75M280.4 262.10h-3.75" stroke="#000" stroke-width="1" fill="none"/>
<rect x="61.5" y="262.1" width="218.90" height="181.80" fill="none" stroke="#000" stroke-width="1.6"/>
<path d="M61.50 436.52H170.95" stroke="#300020" stroke-width="1" stroke-dasharray="0.9 1.1" opacity="0.55" fill="none"/>
<path d="M61.50 444.40H170.95" stroke="#c40a82" stroke-width="1.3" stroke-dasharray="2.8 1.3" opacity="0.45" fill="none"/>
<rect x="289.20" y="436.02" width="291.80" height="7.88" fill="#c40a82"/>
<rect x="581.00" y="436.22" width="145.90" height="7.68" fill="#cdc0b0" stroke="#cdc0b0" stroke-width="2.1" stroke-dasharray="2.8 1.3"/>
<path d="M289.2 436.50H726.9" stroke="#000" stroke-width="1" stroke-dasharray="0.9 0.85" opacity="0.2" fill="none"/>
<path d="M580.50 262.1V443.9" stroke="#000" stroke-width="1" stroke-dasharray="0.95 1" opacity="0.4" fill="none"/>
<path d="M290.48 355.79 L290.78 354.58 L291.07 353.39 L291.36 352.20 L291.64 351.01 L291.92 349.83 L292.19 348.66 L292.46 347.49 L292.72 346.32 L292.99 345.16 L293.25 344.00 L293.51 342.84 L293.76 341.69 L294.02 340.54 L294.28 339.39 L294.53 338.25 L294.79 337.11 L295.05 335.96 L295.31 334.82 L295.57 333.68 L295.83 332.55 L296.10 331.41 L296.37 330.27 L296.65 329.13 L296.92 327.99 L297.21 326.85 L297.50 325.71 L297.79 324.57 L298.09 323.43 L298.40 322.28 L298.72 321.14 L299.04 319.99 L299.37 318.83 L299.71 317.68 L300.06 316.52 L300.42 315.36 L300.79 314.19 L301.17 313.02 L301.57 311.84 L301.97 310.66 L302.38 309.48 L302.81 308.29 L303.25 307.10 L303.71 305.91 L304.19 304.73 L304.68 303.55 L305.20 302.39 L305.73 301.24 L306.29 300.12 L306.88 299.02 L307.49 297.94 L308.13 296.90 L308.79 295.89 L309.49 294.92 L310.22 293.99 L310.99 293.11 L311.79 292.27 L312.62 291.49 L313.50 290.77 L314.41 290.10 L315.37 289.50 L316.37 288.96 L317.40 288.48 L318.46 288.07 L319.55 287.72 L320.67 287.42 L321.80 287.19 L322.95 287.01 L324.12 286.88 L325.29 286.82 L326.46 286.80 L327.64 286.84 L328.81 286.93 L329.98 287.07 L331.13 287.25 L332.27 287.49 L333.38 287.77 L334.48 288.10 L335.56 288.47 L336.61 288.88 L337.65 289.33 L338.67 289.83 L339.66 290.36 L340.64 290.92 L341.61 291.52 L342.56 292.16 L343.49 292.82 L344.40 293.51 L345.31 294.24 L346.20 294.99 L347.07 295.76 L347.93 296.56 L348.79 297.37 L349.63 298.21 L350.46 299.07 L351.28 299.95 L352.09 300.84 L352.89 301.74 L353.69 302.66 L354.48 303.59 L355.26 304.53 L356.04 305.47 L356.81 306.43 L357.58 307.38 L358.35 308.34 L359.11 309.31 L359.87 310.27 L360.62 311.24 L361.37 312.20 L362.13 313.18 L362.87 314.15 L363.62 315.12 L364.36 316.10 L365.10 317.07 L365.84 318.05 L366.57 319.03 L367.31 320.01 L368.04 320.99 L368.77 321.97 L369.50 322.96 L370.22 323.94 L370.95 324.93 L371.67 325.91 L372.39 326.90 L373.11 327.89 L373.83 328.87 L374.55 329.86 L375.27 330.85 L375.98 331.84 L376.70 332.83 L377.41 333.81 L378.13 334.80 L378.84 335.79 L379.55 336.78 L380.27 337.76 L380.98 338.75 L381.69 339.74 L382.40 340.72 L383.11 341.71 L383.82 342.69 L384.53 343.68 L385.25 344.66 L385.96 345.64 L386.67 346.62 L387.38 347.60 L388.10 348.57 L388.81 349.55 L389.53 350.52 L390.24 351.50 L390.96 352.47 L391.68 353.44 L392.39 354.40 L393.12 355.37 L393.84 356.33 L394.56 357.29 L395.28 358.25 L396.01 359.21 L396.74 360.17 L397.47 361.12 L398.20 362.07 L398.93 363.01 L399.67 363.96 L400.40 364.90 L401.14 365.84 L401.89 366.77 L402.63 367.70 L403.38 368.63 L404.13 369.56 L404.88 370.48 L405.63 371.40 L406.39 372.32 L407.15 373.23 L407.92 374.14 L408.68 375.04 L409.45 375.94 L410.23 376.84 L411.01 377.73 L411.79 378.62 L412.57 379.50 L413.36 380.38 L414.15 381.26 L414.95 382.13 L415.75 383.00 L416.55 383.86 L417.36 384.72 L418.17 385.57 L418.99 386.42 L419.81 387.26 L420.63 388.09 L421.46 388.93 L422.30 389.75 L423.14 390.57 L423.98 391.39 L424.83 392.20 L425.69 393.01 L426.55 393.81 L427.41 394.60 L428.28 395.39 L429.16 396.17 L430.04 396.94 L430.92 397.71 L431.82 398.48 L432.72 399.23 L433.62 399.98 L434.53 400.73 L435.45 401.46 L436.37 402.19 L437.30 402.92 L438.23 403.64 L439.18 404.35 L440.12 405.05 L441.08 405.74 L442.04 406.43 L443.01 407.12 L443.99 407.79 L444.97 408.46 L445.96 409.12 L446.95 409.77 L447.96 410.41 L448.97 411.05 L449.98 411.68 L451.00 412.30 L452.03 412.91 L453.07 413.52 L454.11 414.12 L455.15 414.71 L456.21 415.29 L457.26 415.86 L458.33 416.43 L459.40 416.99 L460.47 417.54 L461.55 418.08 L462.63 418.62 L463.72 419.15 L464.82 419.67 L465.91 420.18 L467.02 420.68 L468.13 421.18 L469.24 421.66 L470.35 422.14 L471.47 422.61 L472.60 423.07 L473.73 423.53 L474.86 423.97 L475.99 424.41 L477.13 424.84 L478.27 425.26 L479.42 425.67 L480.57 426.07 L481.72 426.47 L482.87 426.86 L484.03 427.23 L485.19 427.60 L486.35 427.96 L487.52 428.32 L488.69 428.66 L489.86 428.99 L491.03 429.32 L492.20 429.64 L493.38 429.95 L494.55 430.25 L495.73 430.54 L496.91 430.82 L498.09 431.09 L499.27 431.36 L500.46 431.61 L501.64 431.86 L502.83 432.09 L504.02 432.32 L505.20 432.54 L506.39 432.75 L507.58 432.95 L508.77 433.14 L509.95 433.33 L511.14 433.50 L512.33 433.66 L513.52 433.82 L514.71 433.96 L515.90 434.10 L517.08 434.22 L518.27 434.34 L519.45 434.45 L520.64 434.55 L521.82 434.63 L523.01 434.71 L524.19 434.78 L525.37 434.84 L526.54 434.89 L527.72 434.93 L528.90 434.96 L530.07 434.98 L531.24 435.00 L532.41 435.00 L533.58 434.99 L534.74 434.97 L535.90 434.94 L537.06 434.91 L538.22 434.86 L539.38 434.80 L540.53 434.73 L550.00 435.20 L565.00 435.40 L580.30 435.50 L580.51 434.39 L581.11 432.32 L582.55 431.53 L584.31 431.29 L586.12 431.16 L587.94 431.09 L589.78 431.09 L591.63 431.14 L593.50 431.23 L595.37 431.35 L597.24 431.49 L599.12 431.64 L601.00 431.79 L602.88 431.93 L604.76 432.07 L606.64 432.20 L608.52 432.33 L610.40 432.45 L612.28 432.56 L614.15 432.67 L616.03 432.78 L617.91 432.88 L619.78 432.98 L621.66 433.07 L623.53 433.16 L625.40 433.24 L627.28 433.32 L629.15 433.39 L631.02 433.47 L632.90 433.53 L634.77 433.60 L636.64 433.66 L638.51 433.72 L640.38 433.77 L642.26 433.82 L644.13 433.87 L646.00 433.92 L647.87 433.96 L649.74 434.00 L651.61 434.04 L653.48 434.07 L655.35 434.11 L657.22 434.14 L659.09 434.17 L660.96 434.20 L662.83 434.23 L664.70 434.25 L666.57 434.28 L668.44 434.30 L670.31 434.32 L672.18 434.34 L674.05 434.36 L675.92 434.38 L677.79 434.40 L679.66 434.42 L681.53 434.43 L683.40 434.45 L685.27 434.47 L687.14 434.49 L689.01 434.51 L690.88 434.52 L692.75 434.54 L694.63 434.56 L696.50 434.58 L698.37 434.60 L700.24 434.63 L702.12 434.65 L703.99 434.67 L705.86 434.70 L707.74 434.73 L709.61 434.76 L711.49 434.79 L713.36 434.82 L715.24 434.86 L717.11 434.89 L718.99 434.93 L720.87 434.97 L722.75 435.02 L724.62 435.07 L726.50 435.12" stroke="#0000ff" stroke-width="2.1" fill="none" stroke-linejoin="round"/>
<path d="M290.36 350.51 L290.55 349.32 L290.74 348.15 L290.93 346.98 L291.13 345.82 L291.32 344.66 L291.51 343.51 L291.71 342.37 L291.91 341.24 L292.11 340.10 L292.31 338.98 L292.51 337.86 L292.72 336.74 L292.93 335.63 L293.15 334.52 L293.37 333.41 L293.60 332.31 L293.83 331.22 L294.06 330.12 L294.30 329.03 L294.55 327.94 L294.80 326.85 L295.06 325.76 L295.33 324.68 L295.61 323.60 L295.89 322.51 L296.18 321.43 L296.48 320.35 L296.78 319.27 L297.10 318.19 L297.43 317.11 L297.76 316.02 L298.11 314.94 L298.47 313.85 L298.83 312.77 L299.21 311.68 L299.60 310.59 L300.00 309.49 L300.42 308.40 L300.85 307.30 L301.29 306.20 L301.74 305.09 L302.20 303.98 L302.69 302.87 L303.18 301.75 L303.69 300.62 L304.21 299.50 L304.75 298.37 L305.31 297.24 L305.88 296.12 L306.47 295.01 L307.08 293.92 L307.71 292.86 L308.36 291.82 L309.03 290.82 L309.72 289.85 L310.43 288.92 L311.17 288.05 L311.93 287.23 L312.71 286.46 L313.52 285.76 L314.36 285.12 L315.22 284.56 L316.11 284.07 L317.03 283.67 L317.97 283.36 L318.94 283.13 L319.94 282.98 L320.96 282.92 L322.00 282.93 L323.05 283.01 L324.11 283.15 L325.18 283.36 L326.26 283.63 L327.34 283.96 L328.42 284.33 L329.49 284.75 L330.56 285.22 L331.62 285.72 L332.67 286.26 L333.70 286.83 L334.71 287.42 L335.70 288.04 L336.67 288.68 L337.61 289.34 L338.54 290.02 L339.44 290.72 L340.32 291.44 L341.19 292.17 L342.03 292.92 L342.86 293.69 L343.67 294.47 L344.46 295.27 L345.24 296.09 L346.01 296.92 L346.76 297.76 L347.49 298.61 L348.22 299.48 L348.93 300.36 L349.63 301.25 L350.32 302.15 L351.00 303.06 L351.67 303.98 L352.33 304.90 L352.98 305.84 L353.63 306.78 L354.27 307.73 L354.91 308.68 L355.53 309.64 L356.16 310.60 L356.78 311.57 L357.40 312.54 L358.02 313.52 L358.63 314.50 L359.25 315.47 L359.86 316.46 L360.47 317.44 L361.08 318.42 L361.69 319.41 L362.29 320.40 L362.90 321.39 L363.51 322.38 L364.11 323.37 L364.71 324.36 L365.32 325.36 L365.92 326.36 L366.52 327.35 L367.12 328.35 L367.72 329.35 L368.33 330.35 L368.93 331.35 L369.53 332.35 L370.13 333.35 L370.73 334.35 L371.33 335.35 L371.93 336.35 L372.54 337.36 L373.14 338.36 L373.74 339.36 L374.35 340.36 L374.95 341.36 L375.56 342.36 L376.16 343.36 L376.77 344.36 L377.38 345.35 L377.99 346.35 L378.60 347.34 L379.21 348.34 L379.82 349.33 L380.44 350.32 L381.06 351.31 L381.68 352.30 L382.30 353.29 L382.92 354.28 L383.54 355.26 L384.17 356.24 L384.80 357.22 L385.43 358.20 L386.06 359.17 L386.70 360.15 L387.33 361.12 L387.97 362.08 L388.62 363.05 L389.26 364.01 L389.91 364.97 L390.56 365.93 L391.22 366.88 L391.87 367.83 L392.53 368.78 L393.20 369.72 L393.87 370.66 L394.54 371.60 L395.21 372.53 L395.89 373.46 L396.57 374.39 L397.26 375.31 L397.94 376.23 L398.64 377.14 L399.34 378.05 L400.04 378.96 L400.74 379.86 L401.45 380.75 L402.17 381.64 L402.88 382.53 L403.61 383.41 L404.34 384.29 L405.07 385.16 L405.81 386.03 L406.55 386.89 L407.30 387.74 L408.05 388.60 L408.81 389.44 L409.57 390.28 L410.34 391.11 L411.11 391.94 L411.89 392.76 L412.67 393.58 L413.47 394.39 L414.26 395.19 L415.06 395.99 L415.87 396.78 L416.69 397.56 L417.51 398.34 L418.33 399.11 L419.17 399.87 L420.00 400.63 L420.85 401.38 L421.70 402.12 L422.56 402.86 L423.43 403.59 L424.30 404.31 L425.18 405.02 L426.06 405.72 L426.96 406.42 L427.86 407.11 L428.77 407.79 L429.68 408.47 L430.60 409.13 L431.53 409.79 L432.47 410.44 L433.41 411.08 L434.36 411.71 L435.32 412.34 L436.28 412.95 L437.25 413.56 L438.23 414.16 L439.21 414.76 L440.20 415.34 L441.19 415.91 L442.19 416.48 L443.20 417.04 L444.21 417.59 L445.23 418.13 L446.25 418.67 L447.28 419.19 L448.31 419.71 L449.35 420.22 L450.39 420.72 L451.44 421.21 L452.49 421.69 L453.55 422.16 L454.61 422.63 L455.68 423.09 L456.75 423.54 L457.82 423.98 L458.90 424.41 L459.99 424.83 L461.07 425.24 L462.16 425.65 L463.26 426.05 L464.35 426.43 L465.45 426.81 L466.56 427.18 L467.66 427.55 L468.77 427.90 L469.88 428.24 L471.00 428.58 L472.12 428.91 L473.24 429.22 L474.36 429.53 L475.49 429.83 L476.61 430.12 L477.74 430.41 L478.87 430.68 L480.01 430.94 L481.14 431.20 L482.28 431.45 L483.42 431.68 L484.55 431.91 L485.70 432.13 L486.84 432.34 L487.98 432.54 L489.12 432.73 L490.27 432.92 L491.41 433.09 L492.56 433.26 L493.70 433.41 L494.85 433.56 L496.00 433.69 L497.14 433.82 L498.29 433.94 L499.44 434.05 L500.58 434.15 L501.73 434.24 L502.87 434.32 L504.02 434.39 L505.16 434.46 L506.31 434.51 L507.45 434.55 L508.59 434.59 L509.73 434.61 L510.87 434.63 L512.01 434.63 L513.14 434.63 L514.28 434.62 L515.41 434.59 L516.54 434.56 L517.67 434.52 L518.79 434.47 L519.92 434.41 L535.00 435.30 L560.00 435.60 L580.30 435.60 L580.47 434.94 L581.85 433.80 L583.57 433.41 L585.35 433.22 L587.16 433.12 L588.98 433.09 L590.82 433.11 L592.66 433.18 L594.51 433.29 L596.37 433.42 L598.24 433.57 L600.10 433.71 L601.97 433.86 L603.83 433.99 L605.70 434.12 L607.56 434.24 L609.43 434.36 L611.29 434.46 L613.15 434.57 L615.01 434.66 L616.87 434.75 L618.74 434.84 L620.60 434.91 L622.46 434.99 L624.32 435.06 L626.18 435.12 L628.03 435.18 L629.89 435.23 L631.75 435.28 L633.61 435.32 L635.47 435.36 L637.33 435.40 L639.18 435.43 L641.04 435.46 L642.90 435.49 L644.76 435.51 L646.61 435.53 L648.47 435.54 L650.33 435.56 L652.18 435.57 L654.04 435.57 L655.89 435.58 L657.75 435.58 L659.61 435.58 L661.46 435.58 L663.32 435.58 L665.17 435.58 L667.03 435.58 L668.89 435.57 L670.74 435.56 L672.60 435.56 L674.45 435.55 L676.31 435.54 L678.17 435.53 L680.02 435.52 L681.88 435.52 L683.73 435.51 L685.59 435.50 L687.45 435.49 L689.30 435.49 L691.16 435.48 L693.02 435.48 L694.88 435.48 L696.73 435.48 L698.59 435.48 L700.45 435.48 L702.31 435.49 L704.17 435.49 L706.03 435.50 L707.89 435.51 L709.75 435.53 L711.61 435.55 L713.47 435.57 L715.33 435.59 L717.19 435.62 L719.05 435.65 L720.91 435.69 L722.78 435.72 L724.64 435.77 L726.50 435.81" stroke="#000000" stroke-width="2.1" fill="none" stroke-linejoin="round"/>
<path d="M290.43 350.06 L290.56 348.91 L290.69 347.77 L290.83 346.64 L290.97 345.52 L291.11 344.41 L291.26 343.31 L291.41 342.22 L291.56 341.14 L291.71 340.06 L291.87 338.99 L292.04 337.92 L292.21 336.87 L292.38 335.81 L292.56 334.77 L292.74 333.73 L292.92 332.69 L293.11 331.66 L293.31 330.63 L293.51 329.61 L293.72 328.59 L293.93 327.57 L294.15 326.55 L294.38 325.54 L294.61 324.52 L294.84 323.51 L295.09 322.50 L295.34 321.49 L295.59 320.48 L295.86 319.47 L296.13 318.46 L296.41 317.45 L296.69 316.44 L296.98 315.42 L297.28 314.41 L297.59 313.39 L297.91 312.36 L298.23 311.34 L298.57 310.31 L298.91 309.27 L299.26 308.23 L299.61 307.19 L299.98 306.14 L300.36 305.08 L300.74 304.02 L301.14 302.96 L301.55 301.88 L301.96 300.80 L302.38 299.71 L302.82 298.61 L303.27 297.52 L303.73 296.42 L304.20 295.33 L304.69 294.25 L305.19 293.19 L305.71 292.14 L306.24 291.12 L306.80 290.12 L307.38 289.15 L307.97 288.22 L308.59 287.32 L309.23 286.46 L309.90 285.66 L310.58 284.90 L311.30 284.19 L312.04 283.55 L312.81 282.96 L313.61 282.45 L314.44 282.00 L315.30 281.62 L316.19 281.32 L317.10 281.10 L318.04 280.95 L318.99 280.87 L319.96 280.86 L320.94 280.92 L321.93 281.04 L322.92 281.23 L323.90 281.48 L324.88 281.79 L325.85 282.16 L326.81 282.59 L327.75 283.06 L328.67 283.58 L329.58 284.13 L330.46 284.72 L331.32 285.34 L332.16 285.98 L332.97 286.65 L333.77 287.35 L334.55 288.07 L335.31 288.82 L336.05 289.58 L336.77 290.37 L337.48 291.18 L338.17 292.00 L338.85 292.84 L339.52 293.70 L340.17 294.58 L340.81 295.46 L341.44 296.36 L342.06 297.27 L342.67 298.19 L343.27 299.12 L343.87 300.05 L344.46 300.99 L345.04 301.94 L345.61 302.88 L346.19 303.84 L346.76 304.79 L347.32 305.74 L347.88 306.69 L348.44 307.65 L349.00 308.60 L349.55 309.56 L350.10 310.52 L350.65 311.47 L351.20 312.43 L351.74 313.39 L352.28 314.35 L352.82 315.31 L353.35 316.27 L353.89 317.23 L354.42 318.19 L354.95 319.15 L355.48 320.11 L356.00 321.07 L356.53 322.03 L357.05 322.99 L357.57 323.95 L358.09 324.91 L358.61 325.87 L359.13 326.83 L359.64 327.79 L360.16 328.75 L360.67 329.71 L361.19 330.67 L361.70 331.63 L362.22 332.59 L362.73 333.55 L363.24 334.50 L363.75 335.46 L364.26 336.42 L364.78 337.37 L365.29 338.33 L365.80 339.28 L366.31 340.23 L366.82 341.18 L367.34 342.13 L367.85 343.08 L368.37 344.03 L368.88 344.98 L369.40 345.93 L369.91 346.87 L370.43 347.82 L370.95 348.76 L371.47 349.70 L371.99 350.64 L372.51 351.58 L373.04 352.52 L373.57 353.45 L374.09 354.39 L374.62 355.32 L375.15 356.25 L375.69 357.18 L376.22 358.11 L376.76 359.03 L377.30 359.96 L377.85 360.88 L378.39 361.80 L378.94 362.72 L379.49 363.63 L380.04 364.54 L380.60 365.46 L381.16 366.36 L381.72 367.27 L382.29 368.18 L382.86 369.08 L383.43 369.98 L384.01 370.87 L384.58 371.77 L385.17 372.66 L385.76 373.55 L386.35 374.44 L386.94 375.32 L387.54 376.20 L388.14 377.08 L388.75 377.96 L389.36 378.83 L389.98 379.70 L390.60 380.57 L391.23 381.43 L391.86 382.29 L392.50 383.15 L393.14 384.00 L393.78 384.85 L394.43 385.70 L395.09 386.55 L395.75 387.39 L396.42 388.22 L397.09 389.06 L397.77 389.89 L398.45 390.72 L399.14 391.54 L399.84 392.36 L400.54 393.17 L401.25 393.99 L401.97 394.79 L402.69 395.60 L403.41 396.40 L404.15 397.20 L404.89 397.99 L405.64 398.77 L406.39 399.56 L407.15 400.33 L407.91 401.11 L408.69 401.87 L409.46 402.63 L410.25 403.39 L411.04 404.14 L411.84 404.88 L412.64 405.62 L413.45 406.35 L414.26 407.08 L415.08 407.79 L415.91 408.50 L416.74 409.21 L417.58 409.90 L418.42 410.59 L419.27 411.27 L420.13 411.94 L420.99 412.61 L421.86 413.26 L422.73 413.91 L423.61 414.55 L424.50 415.18 L425.39 415.80 L426.29 416.41 L427.19 417.01 L428.10 417.61 L429.01 418.19 L429.93 418.76 L430.85 419.32 L431.78 419.87 L432.72 420.41 L433.66 420.94 L434.61 421.46 L435.56 421.97 L436.52 422.47 L437.48 422.95 L438.45 423.43 L439.42 423.89 L440.40 424.34 L441.38 424.77 L442.37 425.20 L443.37 425.61 L444.36 426.01 L445.37 426.39 L446.38 426.76 L447.39 427.12 L448.41 427.47 L449.44 427.80 L450.47 428.12 L451.50 428.42 L452.54 428.71 L453.58 428.99 L454.63 429.25 L455.68 429.51 L456.74 429.75 L457.80 429.98 L458.86 430.20 L459.92 430.41 L460.99 430.61 L462.06 430.81 L463.13 430.99 L464.20 431.17 L465.28 431.33 L466.36 431.49 L467.43 431.65 L468.51 431.79 L469.59 431.93 L470.67 432.07 L471.76 432.20 L472.84 432.33 L473.92 432.45 L475.00 432.56 L476.08 432.68 L477.16 432.79 L478.24 432.90 L479.31 433.01 L480.39 433.11 L481.46 433.21 L482.54 433.32 L483.61 433.42 L484.67 433.52 L485.74 433.63 L486.80 433.73 L487.86 433.84 L488.91 433.95 L489.97 434.06 L505.00 434.90 L520.00 435.40 L540.00 435.70 L580.30 435.70 L582.00 435.50 L726.50 435.70" stroke="#c080ff" stroke-width="2.1" fill="none" stroke-linejoin="round"/>
<path d="M290.48 349.82 L290.57 348.64 L290.66 347.48 L290.76 346.33 L290.87 345.19 L290.97 344.06 L291.09 342.95 L291.21 341.85 L291.33 340.76 L291.46 339.68 L291.59 338.61 L291.73 337.55 L291.87 336.50 L292.02 335.46 L292.18 334.42 L292.34 333.39 L292.50 332.37 L292.67 331.36 L292.85 330.35 L293.03 329.34 L293.21 328.34 L293.41 327.35 L293.60 326.35 L293.81 325.36 L294.02 324.37 L294.23 323.39 L294.45 322.40 L294.68 321.41 L294.91 320.43 L295.14 319.44 L295.39 318.45 L295.64 317.46 L295.89 316.47 L296.15 315.48 L296.42 314.48 L296.69 313.48 L296.97 312.47 L297.26 311.46 L297.55 310.44 L297.85 309.41 L298.15 308.38 L298.46 307.34 L298.78 306.29 L299.10 305.24 L299.43 304.17 L299.77 303.10 L300.11 302.01 L300.46 300.91 L300.81 299.81 L301.18 298.69 L301.55 297.57 L301.93 296.44 L302.32 295.32 L302.73 294.21 L303.15 293.10 L303.59 292.02 L304.04 290.95 L304.51 289.91 L305.01 288.89 L305.52 287.91 L306.06 286.96 L306.62 286.05 L307.21 285.19 L307.82 284.37 L308.47 283.61 L309.14 282.90 L309.85 282.26 L310.58 281.68 L311.36 281.16 L312.17 280.73 L313.01 280.37 L313.89 280.09 L314.80 279.88 L315.73 279.76 L316.67 279.73 L317.63 279.77 L318.58 279.89 L319.53 280.10 L320.48 280.39 L321.40 280.77 L322.30 281.23 L323.18 281.77 L324.02 282.39 L324.85 283.06 L325.65 283.79 L326.42 284.55 L327.18 285.34 L327.92 286.14 L328.65 286.94 L329.36 287.76 L330.06 288.59 L330.74 289.43 L331.41 290.27 L332.06 291.12 L332.70 291.98 L333.34 292.85 L333.95 293.73 L334.56 294.61 L335.16 295.49 L335.75 296.39 L336.33 297.28 L336.90 298.19 L337.46 299.10 L338.02 300.01 L338.57 300.93 L339.11 301.85 L339.65 302.77 L340.18 303.70 L340.71 304.63 L341.23 305.56 L341.75 306.50 L342.27 307.43 L342.78 308.37 L343.30 309.31 L343.81 310.25 L344.32 311.19 L344.82 312.13 L345.33 313.08 L345.84 314.02 L346.34 314.97 L346.84 315.91 L347.34 316.86 L347.84 317.81 L348.34 318.75 L348.84 319.70 L349.34 320.65 L349.83 321.60 L350.33 322.55 L350.82 323.50 L351.32 324.45 L351.81 325.40 L352.30 326.36 L352.80 327.31 L353.29 328.26 L353.78 329.21 L354.27 330.16 L354.76 331.11 L355.25 332.07 L355.75 333.02 L356.24 333.97 L356.73 334.92 L357.22 335.87 L357.72 336.82 L358.21 337.77 L358.70 338.72 L359.20 339.67 L359.69 340.62 L360.19 341.57 L360.68 342.52 L361.18 343.47 L361.68 344.41 L362.18 345.36 L362.68 346.30 L363.18 347.25 L363.68 348.19 L364.18 349.14 L364.69 350.08 L365.19 351.02 L365.70 351.96 L366.21 352.90 L366.72 353.83 L367.24 354.77 L367.75 355.70 L368.27 356.64 L368.79 357.57 L369.31 358.50 L369.83 359.43 L370.35 360.36 L370.88 361.28 L371.41 362.21 L371.94 363.13 L372.48 364.05 L373.01 364.97 L373.55 365.89 L374.10 366.80 L374.64 367.72 L375.19 368.63 L375.74 369.54 L376.29 370.45 L376.85 371.35 L377.41 372.26 L377.97 373.16 L378.54 374.06 L379.11 374.95 L379.68 375.85 L380.26 376.74 L380.84 377.63 L381.43 378.52 L382.01 379.40 L382.61 380.28 L383.20 381.16 L383.80 382.04 L384.40 382.91 L385.01 383.79 L385.62 384.65 L386.24 385.52 L386.86 386.38 L387.49 387.24 L388.12 388.10 L388.75 388.95 L389.39 389.80 L390.03 390.65 L390.68 391.49 L391.33 392.33 L391.99 393.17 L392.65 394.00 L393.32 394.83 L393.99 395.66 L394.67 396.48 L395.36 397.30 L396.04 398.12 L396.74 398.93 L397.44 399.73 L398.14 400.53 L398.85 401.33 L399.57 402.12 L400.29 402.91 L401.02 403.68 L401.75 404.46 L402.49 405.23 L403.24 405.99 L403.99 406.74 L404.75 407.49 L405.51 408.23 L406.28 408.96 L407.06 409.69 L407.84 410.40 L408.63 411.11 L409.42 411.81 L410.22 412.51 L411.03 413.19 L411.84 413.86 L412.66 414.53 L413.49 415.19 L414.33 415.83 L415.17 416.47 L416.01 417.09 L416.87 417.71 L417.73 418.32 L418.60 418.91 L419.47 419.49 L420.36 420.07 L421.25 420.63 L422.14 421.18 L423.05 421.71 L423.96 422.24 L424.88 422.75 L425.80 423.25 L426.74 423.74 L427.68 424.21 L428.63 424.67 L429.59 425.12 L430.55 425.55 L431.52 425.97 L432.51 426.38 L433.49 426.77 L434.49 427.14 L435.49 427.50 L436.51 427.85 L437.53 428.18 L438.56 428.50 L439.59 428.80 L440.63 429.09 L441.68 429.36 L442.73 429.63 L443.79 429.88 L444.85 430.12 L445.92 430.34 L446.99 430.56 L448.07 430.77 L449.15 430.96 L450.23 431.15 L451.31 431.33 L452.40 431.50 L453.48 431.66 L454.57 431.81 L455.66 431.96 L456.75 432.10 L457.84 432.23 L458.92 432.36 L460.01 432.48 L461.10 432.60 L462.18 432.71 L463.26 432.82 L464.34 432.93 L465.42 433.03 L466.49 433.13 L467.56 433.22 L468.62 433.32 L469.68 433.41 L470.73 433.50 L471.78 433.59 L472.82 433.68 L473.86 433.78 L474.89 433.87 L475.91 433.96 L476.92 434.06 L477.93 434.16 L478.93 434.26 L479.91 434.36 L495.00 435.00 L510.00 435.50 L520.00 435.70" stroke="#000000" stroke-width="2.4" fill="none" stroke-linejoin="round" stroke-dasharray="2.8 1.3"/>
<path d="M290.45 349.51 L290.60 348.38 L290.75 347.27 L290.89 346.16 L291.04 345.07 L291.18 343.99 L291.32 342.91 L291.46 341.85 L291.61 340.79 L291.75 339.75 L291.89 338.71 L292.03 337.68 L292.18 336.65 L292.32 335.64 L292.47 334.63 L292.61 333.62 L292.76 332.62 L292.91 331.63 L293.06 330.64 L293.21 329.65 L293.37 328.67 L293.52 327.69 L293.68 326.71 L293.84 325.73 L294.00 324.76 L294.17 323.79 L294.34 322.82 L294.51 321.84 L294.69 320.87 L294.87 319.90 L295.05 318.93 L295.24 317.95 L295.43 316.97 L295.63 315.99 L295.83 315.01 L296.03 314.03 L296.24 313.04 L296.45 312.04 L296.67 311.04 L296.90 310.04 L297.13 309.03 L297.36 308.01 L297.61 306.99 L297.85 305.96 L298.11 304.92 L298.37 303.88 L298.63 302.82 L298.91 301.76 L299.19 300.68 L299.47 299.60 L299.77 298.51 L300.08 297.42 L300.39 296.33 L300.72 295.24 L301.07 294.15 L301.43 293.08 L301.80 292.02 L302.20 290.98 L302.62 289.96 L303.05 288.96 L303.52 287.99 L304.00 287.05 L304.51 286.14 L305.05 285.28 L305.62 284.45 L306.22 283.67 L306.86 282.94 L307.52 282.25 L308.22 281.63 L308.96 281.06 L309.74 280.55 L310.55 280.11 L311.41 279.74 L312.30 279.44 L313.22 279.21 L314.15 279.07 L315.10 279.01 L316.05 279.04 L316.99 279.16 L317.91 279.38 L318.81 279.69 L319.68 280.11 L320.50 280.64 L321.29 281.26 L322.04 281.96 L322.77 282.72 L323.47 283.52 L324.15 284.34 L324.81 285.17 L325.47 286.01 L326.11 286.85 L326.74 287.69 L327.36 288.55 L327.97 289.40 L328.56 290.26 L329.15 291.13 L329.73 292.00 L330.29 292.88 L330.85 293.76 L331.40 294.64 L331.95 295.53 L332.48 296.42 L333.01 297.31 L333.53 298.21 L334.04 299.11 L334.55 300.01 L335.06 300.92 L335.55 301.83 L336.05 302.74 L336.54 303.65 L337.02 304.56 L337.51 305.48 L337.99 306.40 L338.47 307.32 L338.94 308.24 L339.41 309.16 L339.89 310.08 L340.36 311.00 L340.83 311.93 L341.29 312.86 L341.76 313.78 L342.22 314.71 L342.69 315.64 L343.15 316.57 L343.61 317.50 L344.07 318.43 L344.53 319.36 L344.98 320.29 L345.44 321.22 L345.90 322.16 L346.35 323.09 L346.80 324.02 L347.26 324.96 L347.71 325.89 L348.16 326.83 L348.61 327.76 L349.06 328.70 L349.52 329.64 L349.97 330.57 L350.42 331.51 L350.87 332.44 L351.32 333.38 L351.77 334.32 L352.22 335.25 L352.67 336.19 L353.12 337.13 L353.57 338.06 L354.02 339.00 L354.47 339.94 L354.92 340.87 L355.37 341.81 L355.83 342.74 L356.28 343.68 L356.73 344.61 L357.19 345.54 L357.64 346.48 L358.10 347.41 L358.56 348.34 L359.02 349.27 L359.48 350.20 L359.94 351.13 L360.40 352.06 L360.86 352.99 L361.33 353.92 L361.80 354.84 L362.26 355.77 L362.73 356.69 L363.20 357.62 L363.68 358.54 L364.15 359.46 L364.63 360.38 L365.11 361.30 L365.59 362.22 L366.07 363.14 L366.56 364.05 L367.04 364.96 L367.53 365.88 L368.02 366.79 L368.52 367.70 L369.01 368.61 L369.51 369.51 L370.01 370.42 L370.52 371.32 L371.03 372.22 L371.54 373.12 L372.05 374.02 L372.56 374.92 L373.08 375.81 L373.60 376.70 L374.13 377.60 L374.66 378.48 L375.19 379.37 L375.72 380.26 L376.26 381.14 L376.80 382.02 L377.35 382.90 L377.89 383.77 L378.45 384.65 L379.00 385.52 L379.56 386.39 L380.13 387.25 L380.69 388.12 L381.26 388.98 L381.84 389.84 L382.42 390.70 L383.00 391.55 L383.59 392.40 L384.18 393.25 L384.78 394.10 L385.38 394.94 L385.99 395.78 L386.60 396.62 L387.22 397.45 L387.84 398.28 L388.46 399.11 L389.09 399.93 L389.73 400.75 L390.37 401.56 L391.01 402.37 L391.67 403.17 L392.32 403.97 L392.99 404.76 L393.66 405.55 L394.33 406.33 L395.02 407.10 L395.70 407.86 L396.40 408.62 L397.10 409.37 L397.81 410.11 L398.52 410.85 L399.24 411.57 L399.97 412.29 L400.71 413.00 L401.45 413.70 L402.20 414.39 L402.96 415.07 L403.72 415.74 L404.50 416.40 L405.28 417.05 L406.07 417.69 L406.86 418.32 L407.67 418.94 L408.48 419.54 L409.30 420.13 L410.13 420.72 L410.97 421.28 L411.82 421.84 L412.68 422.38 L413.54 422.91 L414.42 423.43 L415.30 423.93 L416.19 424.42 L417.10 424.90 L418.01 425.36 L418.93 425.80 L419.86 426.23 L420.80 426.64 L421.76 427.04 L422.72 427.43 L423.69 427.79 L424.67 428.14 L425.66 428.48 L426.67 428.79 L427.68 429.10 L428.70 429.38 L429.72 429.66 L430.76 429.92 L431.80 430.16 L432.85 430.40 L433.90 430.62 L434.96 430.83 L436.02 431.03 L437.08 431.22 L438.15 431.40 L439.22 431.57 L440.29 431.73 L441.36 431.88 L442.43 432.03 L443.50 432.17 L444.58 432.30 L445.64 432.42 L446.71 432.54 L447.78 432.66 L448.84 432.77 L449.90 432.88 L450.95 432.98 L452.00 433.08 L453.04 433.18 L454.07 433.28 L455.10 433.37 L456.12 433.47 L457.14 433.56 L458.14 433.66 L459.13 433.76 L460.12 433.85 L461.09 433.96 L462.05 434.06 L463.00 434.17 L463.94 434.28 L464.87 434.39 L480.00 434.90 L500.00 435.50 L530.00 435.80 L580.00 435.80 L582.00 435.70 L726.50 435.80" stroke="#cdc0b0" stroke-width="2.4" fill="none" stroke-linejoin="round" stroke-dasharray="2.8 1.3"/>
<path d="M726.90 443.9v-6.7M726.90 262.1v6.7M712.31 443.9v-3.75M712.31 262.1v3.75M697.72 443.9v-3.75M697.72 262.1v3.75M683.13 443.9v-3.75M683.13 262.1v3.75M668.54 443.9v-3.75M668.54 262.1v3.75M653.95 443.9v-6.7M653.95 262.1v6.7M639.36 443.9v-3.75M639.36 262.1v3.75M624.77 443.9v-3.75M624.77 262.1v3.75M610.18 443.9v-3.75M610.18 262.1v3.75M595.59 443.9v-3.75M595.59 262.1v3.75M581.00 443.9v-6.7M581.00 262.1v6.7M566.41 443.9v-3.75M566.41 262.1v3.75M551.82 443.9v-3.75M551.82 262.1v3.75M537.23 443.9v-3.75M537.23 262.1v3.75M522.64 443.9v-3.75M522.64 262.1v3.75M508.05 443.9v-6.7M508.05 262.1v6.7M493.46 443.9v-3.75M493.46 262.1v3.75M478.87 443.9v-3.75M478.87 262.1v3.75M464.28 443.9v-3.75M464.28 262.1v3.75M449.69 443.9v-3.75M449.69 262.1v3.75M435.10 443.9v-6.7M435.10 262.1v6.7M420.51 443.9v-3.75M420.51 262.1v3.75M405.92 443.9v-3.75M405.92 262.1v3.75M391.33 443.9v-3.75M391.33 262.1v3.75M376.74 443.9v-3.75M376.74 262.1v3.75M362.15 443.9v-6.7M362.15 262.1v6.7M347.56 443.9v-3.75M347.56 262.1v3.75M332.97 443.9v-3.75M332.97 262.1v3.75M318.38 443.9v-3.75M318.38 262.1v3.75M303.79 443.9v-3.75M303.79 262.1v3.75M289.20 443.9v-6.7M289.20 262.1v6.7M289.2 436.22h6.7M726.9 436.22h-6.7M289.2 425.98h3.75M726.9 425.98h-3.75M289.2 415.73h3.75M726.9 415.73h-3.75M289.2 405.49h3.75M726.9 405.49h-3.75M289.2 395.25h3.75M726.9 395.25h-3.75M289.2 385.01h6.7M726.9 385.01h-6.7M289.2 374.76h3.75M726.9 374.76h-3.75M289.2 364.52h3.75M726.9 364.52h-3.75M289.2 354.28h3.75M726.9 354.28h-3.75M289.2 344.04h3.75M726.9 344.04h-3.75M289.2 333.80h6.7M726.9 333.80h-6.7M289.2 323.55h3.75M726.9 323.55h-3.75M289.2 313.31h3.75M726.9 313.31h-3.75M289.2 303.07h3.75M726.9 303.07h-3.75M289.2 292.83h3.75M726.9 292.83h-3.75M289.2 282.58h6.7M726.9 282.58h-6.7M289.2 272.34h3.75M726.9 272.34h-3.75M289.2 262.10h3.75M726.9 262.10h-3.75" stroke="#000" stroke-width="1" fill="none"/>
<rect x="289.2" y="262.1" width="437.70" height="181.80" fill="none" stroke="#000" stroke-width="1.6"/>
<path d="M289.20 436.52H581.00" stroke="#300020" stroke-width="1" stroke-dasharray="0.9 1.1" opacity="0.55" fill="none"/>
<path d="M289.20 444.40H581.00" stroke="#c40a82" stroke-width="1.3" stroke-dasharray="2.8 1.3" opacity="0.45" fill="none"/>
<path d="M678.3 284.8H693.6" stroke="#0000ff" stroke-width="2.1"/>
<path d="M678.3 303.7H693.6" stroke="#000000" stroke-width="2.1"/>
<path d="M678.3 322.6H693.6" stroke="#c080ff" stroke-width="2.1"/>
<path d="M678.3 341.5H693.6" stroke="#000000" stroke-width="2.1" stroke-dasharray="2.8 1.3"/>
<path d="M678.3 360.4H693.6" stroke="#cdc0b0" stroke-width="2.1" stroke-dasharray="2.8 1.3"/>
<g style="filter:grayscale(1)" stroke="#000" stroke-width="0.35" stroke-linejoin="round">
<text x="49.4" y="203.93" text-anchor="end">0</text>
<text x="49.4" y="152.80" text-anchor="end">20</text>
<text x="49.4" y="101.68" text-anchor="end">40</text>
<text x="49.4" y="50.55" text-anchor="end">60</text>
<text x="64.10" y="225.00" text-anchor="middle">100</text>
<text x="118.80" y="225.00" text-anchor="middle">50</text>
<text x="173.50" y="225.00" text-anchor="middle">0</text>
<text x="225.50" y="225.00" text-anchor="middle">–50</text>
<text x="114.55" y="14.00" font-style="italic">d</text>
<text x="125.32" y="19.65" font-size="14.88">WCO</text>
<text x="163.02" y="14.00">=</text>
<text x="176.60" y="14.00">10 nm</text>
<text x="219.70" y="44.80" text-anchor="end">7.5 g/cm</text>
<text x="219.80" y="35.60" font-size="14.88">3</text>
<text x="219.70" y="63.70" text-anchor="end">12 g/cm</text>
<text x="219.80" y="54.50" font-size="14.88">3</text>
<text x="287.40" y="225.00" text-anchor="middle">100</text>
<text x="342.08" y="225.00" text-anchor="middle">50</text>
<text x="396.75" y="225.00" text-anchor="middle">0</text>
<text x="448.72" y="225.00" text-anchor="middle">–50</text>
<text x="337.80" y="14.00" font-style="italic">d</text>
<text x="348.57" y="19.65" font-size="14.88">WCO</text>
<text x="386.27" y="14.00">=</text>
<text x="399.85" y="14.00">20 nm</text>
<text x="510.50" y="225.00" text-anchor="middle">100</text>
<text x="565.25" y="225.00" text-anchor="middle">50</text>
<text x="620.00" y="225.00" text-anchor="middle">0</text>
<text x="672.05" y="225.00" text-anchor="middle">–50</text>
<text x="726.80" y="225.00" text-anchor="middle">–100</text>
<text x="561.05" y="14.00" font-style="italic">d</text>
<text x="571.82" y="19.65" font-size="14.88">WCO</text>
<text x="609.52" y="14.00">=</text>
<text x="623.10" y="14.00">50 nm</text>
<text x="565.6" y="190.5" font-size="13.6">W<tspan font-size="10.9" dy="3.1" font-style="italic">x</tspan><tspan dy="-3.1">C</tspan><tspan font-size="10.9" dy="3.1" font-style="italic">y</tspan><tspan dy="-3.1">O</tspan><tspan font-size="10.9" dy="3.1" font-style="italic">z</tspan></text>
<text x="630.2" y="190.5" font-size="13.6">SiO<tspan font-size="10.9" dy="3.1">2</tspan></text>
<text x="49.4" y="442.42" text-anchor="end">0</text>
<text x="49.4" y="391.21" text-anchor="end">20</text>
<text x="49.4" y="340.00" text-anchor="end">40</text>
<text x="49.4" y="288.78" text-anchor="end">60</text>
<text x="64.10" y="463.50" text-anchor="middle">100</text>
<text x="118.82" y="463.50" text-anchor="middle">50</text>
<text x="173.55" y="463.50" text-anchor="middle">0</text>
<text x="225.57" y="463.50" text-anchor="middle">–50</text>
<text x="109.43" y="252.20" font-style="italic">d</text>
<text x="120.21" y="257.85" font-size="14.88">WCO</text>
<text x="157.91" y="252.20">=</text>
<text x="171.49" y="252.20">100 nm</text>
<text x="171.15" y="484.3" text-anchor="middle"><tspan font-style="italic">z</tspan> (nm)</text>
<text x="291.80" y="463.50" text-anchor="middle">200</text>
<text x="364.75" y="463.50" text-anchor="middle">150</text>
<text x="437.70" y="463.50" text-anchor="middle">100</text>
<text x="510.65" y="463.50" text-anchor="middle">50</text>
<text x="583.60" y="463.50" text-anchor="middle">0</text>
<text x="653.85" y="463.50" text-anchor="middle">–50</text>
<text x="726.80" y="463.50" text-anchor="middle">–100</text>
<text x="446.53" y="252.20" font-style="italic">d</text>
<text x="457.31" y="257.85" font-size="14.88">WCO</text>
<text x="495.01" y="252.20">=</text>
<text x="508.59" y="252.20">200 nm</text>
<text x="508.25" y="484.3" text-anchor="middle"><tspan font-style="italic">z</tspan> (nm)</text>
<text x="657.60" y="292.10" text-anchor="end">8 g/cm</text>
<text x="657.70" y="282.90" font-size="14.88">3</text>
<text x="657.60" y="311.00" text-anchor="end">9 g/cm</text>
<text x="657.70" y="301.80" font-size="14.88">3</text>
<text x="657.60" y="329.90" text-anchor="end">10 g/cm</text>
<text x="657.70" y="320.70" font-size="14.88">3</text>
<text x="657.60" y="348.80" text-anchor="end">11 g/cm</text>
<text x="657.70" y="339.60" font-size="14.88">3</text>
<text x="657.60" y="367.70" text-anchor="end">12 g/cm</text>
<text x="657.70" y="358.50" font-size="14.88">3</text>
<text transform="translate(13.5 247) rotate(-90)" text-anchor="middle" font-size="18.83">Deposited energy (eV/nm)</text>
</g>
</svg>
</body></html>
